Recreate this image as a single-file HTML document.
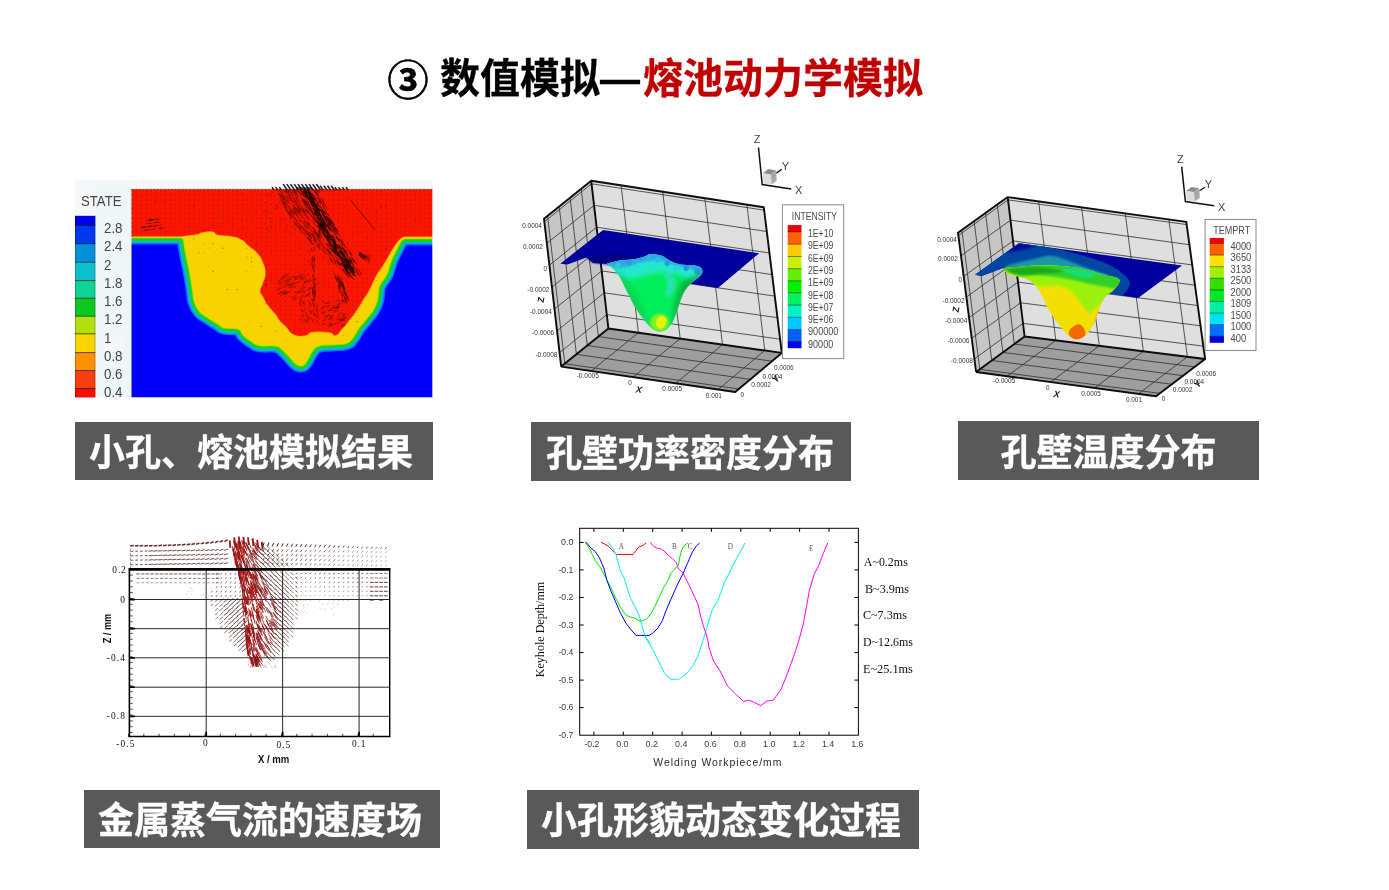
<!DOCTYPE html>
<html lang="zh-CN">
<head>
<meta charset="utf-8">
<title>数值模拟—熔池动力学模拟</title>
<style>
html,body{margin:0;padding:0;background:#fff;}
body{width:1389px;height:890px;position:relative;overflow:hidden;font-family:"Liberation Sans","Noto Sans CJK SC",sans-serif;}
.title{position:absolute;left:0;top:0;width:1389px;height:130px;}
.title span{position:absolute;top:50px;line-height:58px;font-size:40px;font-weight:bold;white-space:nowrap;font-family:"Liberation Sans","Noto Sans CJK SC",sans-serif;transform:scaleY(1.03);transform-origin:50% 50%;}
.cap{position:absolute;background:#595959;color:#fff;font-weight:bold;font-size:36px;text-align:center;white-space:nowrap;font-family:"Liberation Sans","Noto Sans CJK SC",sans-serif;}
.cap span{display:block;position:relative;transform:scaleY(1.03);-webkit-text-stroke:0.3px #fff;}
.fig{position:absolute;left:0;top:0;}
svg text{font-family:"Liberation Sans",sans-serif;}
</style>
</head>
<body>
<div class="title">
  <span style="left:387.5px;color:#000;-webkit-text-stroke:0.7px #000;top:51.5px;font-size:41px;transform:none">③</span>
  <span style="left:440px;color:#000;-webkit-text-stroke:0.3px #000">数值模拟—</span>
  <span style="left:643px;color:#c00000;-webkit-text-stroke:0.3px #c00000">熔池动力学模拟</span>
</div>
<svg class="fig" width="1389" height="890" viewBox="0 0 1389 890">
<g id="fig1">
<defs><clipPath id="f1clip"><rect x="131.5" y="189.3" width="301" height="208.2"/></clipPath><clipPath id="f1all"><rect x="75" y="180" width="357.6" height="217.6"/></clipPath><filter id="f1b" x="-5%" y="-5%" width="110%" height="110%"><feGaussianBlur stdDeviation="0.7"/></filter><filter id="f1b2" x="-5%" y="-5%" width="110%" height="110%"><feGaussianBlur stdDeviation="0.6"/></filter></defs>
<rect x="75" y="180" width="357.6" height="217.6" fill="#f5f7f8"/>
<rect x="96" y="183" width="35" height="214" fill="#eef6f8"/>
<rect x="104" y="338" width="20" height="14" fill="#f6f6f6"/>
<g clip-path="url(#f1all)"><g filter="url(#f1b)">
<rect x="75" y="215.8" width="20.3" height="9.9" fill="#0000e8"/>
<rect x="75" y="225.4" width="20.3" height="18.6" fill="#0038f0"/>
<rect x="75" y="243.7" width="20.3" height="18.8" fill="#0090d8"/>
<rect x="75" y="262.2" width="20.3" height="18.7" fill="#10c0d0"/>
<rect x="75" y="280.6" width="20.3" height="18.0" fill="#10d494"/>
<rect x="75" y="298.3" width="20.3" height="18.2" fill="#10c820"/>
<rect x="75" y="316.2" width="20.3" height="17.9" fill="#b0e010"/>
<rect x="75" y="333.8" width="20.3" height="19.1" fill="#f8d400"/>
<rect x="75" y="352.6" width="20.3" height="18.3" fill="#ff9000"/>
<rect x="75" y="370.6" width="20.3" height="18.1" fill="#f84010"/>
<rect x="75" y="388.4" width="20.3" height="9.5" fill="#f81000"/>
<rect x="75" y="224.9" width="20.3" height="1" fill="#000" opacity="0.6"/>
<rect x="75" y="243.2" width="20.3" height="1" fill="#000" opacity="0.6"/>
<rect x="75" y="261.7" width="20.3" height="1" fill="#000" opacity="0.6"/>
<rect x="75" y="280.1" width="20.3" height="1" fill="#000" opacity="0.6"/>
<rect x="75" y="297.8" width="20.3" height="1" fill="#000" opacity="0.6"/>
<rect x="75" y="315.7" width="20.3" height="1" fill="#000" opacity="0.6"/>
<rect x="75" y="333.3" width="20.3" height="1" fill="#000" opacity="0.6"/>
<rect x="75" y="352.1" width="20.3" height="1" fill="#000" opacity="0.6"/>
<rect x="75" y="370.1" width="20.3" height="1" fill="#000" opacity="0.6"/>
<rect x="75" y="387.9" width="20.3" height="1" fill="#000" opacity="0.6"/>
<rect x="75" y="215.8" width="0.8" height="182" fill="#000" opacity=".3"/>
<rect x="94.6" y="215.8" width="0.8" height="182" fill="#000" opacity=".3"/>
</g>
<g clip-path="url(#f1clip)"><g filter="url(#f1b)">
<rect x="129.5" y="187.5" width="305.0" height="212.0" fill="#0000fa"/>
<path d="M129 237.2L176.0 237.2C177.3 237.3 179.7 236.9 181.5 237.6C183.3 238.3 182.9 237.1 183.8 240.0C184.7 242.9 184.5 244.8 185.5 250.0C186.5 255.2 186.8 256.7 188.0 262.5C189.2 268.3 189.6 270.0 190.5 275.0C191.4 280.0 191.4 280.0 192.0 284.0C192.6 288.0 192.6 287.9 193.2 292.0C193.8 296.1 193.1 297.1 194.6 301.6C196.1 306.1 196.8 307.7 199.8 311.3C202.8 314.9 203.3 314.2 207.5 317.1C211.7 320.0 214.0 321.2 217.9 323.6C221.8 326.0 219.5 326.3 224.3 327.5C229.1 328.7 234.1 327.0 238.6 328.8C243.1 330.6 240.7 332.4 243.7 335.2C246.7 338.0 247.9 338.7 251.5 341.0C255.1 343.3 253.5 343.9 259.2 345.0C264.9 346.1 270.6 344.6 276.0 345.6C281.4 346.7 279.7 347.4 282.5 349.5C285.3 351.6 284.8 351.5 287.8 354.6C290.8 357.8 292.7 360.5 295.5 363.0C298.3 365.5 298.1 364.9 300.0 365.3C301.9 365.7 301.9 365.9 303.6 364.6C305.3 363.3 305.1 363.0 307.1 359.8C309.1 356.6 309.6 354.0 312.3 350.7C315.0 347.4 314.3 347.1 318.8 345.6C323.3 344.1 325.4 344.9 331.7 344.3C338.0 343.7 341.1 344.5 345.9 343.0C350.7 341.5 349.4 341.4 352.4 337.8C355.4 334.2 355.8 331.7 358.8 327.5C361.8 323.3 362.0 323.9 365.3 319.7C368.6 315.5 370.4 313.9 373.1 309.4C375.8 304.9 375.7 304.8 376.9 300.3C378.1 295.8 377.5 293.8 378.2 290.0C378.9 286.2 378.2 287.5 380.0 284.0C381.8 280.5 383.9 279.1 386.0 275.0C388.1 270.9 387.7 270.2 389.0 266.5C390.3 262.8 389.9 262.9 391.5 259.0C393.1 255.2 394.2 253.5 396.0 250.0C397.8 246.5 397.5 246.5 399.0 244.0C400.5 241.5 400.9 240.7 402.5 239.3C404.1 237.9 405.2 238.5 406.0 238.2L435 238.2" fill="none" stroke="#0a70f6" stroke-width="14.5" stroke-linejoin="round"/>
<path d="M129 237.2L176.0 237.2C177.3 237.3 179.7 236.9 181.5 237.6C183.3 238.3 182.9 237.1 183.8 240.0C184.7 242.9 184.5 244.8 185.5 250.0C186.5 255.2 186.8 256.7 188.0 262.5C189.2 268.3 189.6 270.0 190.5 275.0C191.4 280.0 191.4 280.0 192.0 284.0C192.6 288.0 192.6 287.9 193.2 292.0C193.8 296.1 193.1 297.1 194.6 301.6C196.1 306.1 196.8 307.7 199.8 311.3C202.8 314.9 203.3 314.2 207.5 317.1C211.7 320.0 214.0 321.2 217.9 323.6C221.8 326.0 219.5 326.3 224.3 327.5C229.1 328.7 234.1 327.0 238.6 328.8C243.1 330.6 240.7 332.4 243.7 335.2C246.7 338.0 247.9 338.7 251.5 341.0C255.1 343.3 253.5 343.9 259.2 345.0C264.9 346.1 270.6 344.6 276.0 345.6C281.4 346.7 279.7 347.4 282.5 349.5C285.3 351.6 284.8 351.5 287.8 354.6C290.8 357.8 292.7 360.5 295.5 363.0C298.3 365.5 298.1 364.9 300.0 365.3C301.9 365.7 301.9 365.9 303.6 364.6C305.3 363.3 305.1 363.0 307.1 359.8C309.1 356.6 309.6 354.0 312.3 350.7C315.0 347.4 314.3 347.1 318.8 345.6C323.3 344.1 325.4 344.9 331.7 344.3C338.0 343.7 341.1 344.5 345.9 343.0C350.7 341.5 349.4 341.4 352.4 337.8C355.4 334.2 355.8 331.7 358.8 327.5C361.8 323.3 362.0 323.9 365.3 319.7C368.6 315.5 370.4 313.9 373.1 309.4C375.8 304.9 375.7 304.8 376.9 300.3C378.1 295.8 377.5 293.8 378.2 290.0C378.9 286.2 378.2 287.5 380.0 284.0C381.8 280.5 383.9 279.1 386.0 275.0C388.1 270.9 387.7 270.2 389.0 266.5C390.3 262.8 389.9 262.9 391.5 259.0C393.1 255.2 394.2 253.5 396.0 250.0C397.8 246.5 397.5 246.5 399.0 244.0C400.5 241.5 400.9 240.7 402.5 239.3C404.1 237.9 405.2 238.5 406.0 238.2L435 238.2" fill="none" stroke="#10b0e8" stroke-width="11.5" stroke-linejoin="round"/>
<path d="M129 237.2L176.0 237.2C177.3 237.3 179.7 236.9 181.5 237.6C183.3 238.3 182.9 237.1 183.8 240.0C184.7 242.9 184.5 244.8 185.5 250.0C186.5 255.2 186.8 256.7 188.0 262.5C189.2 268.3 189.6 270.0 190.5 275.0C191.4 280.0 191.4 280.0 192.0 284.0C192.6 288.0 192.6 287.9 193.2 292.0C193.8 296.1 193.1 297.1 194.6 301.6C196.1 306.1 196.8 307.7 199.8 311.3C202.8 314.9 203.3 314.2 207.5 317.1C211.7 320.0 214.0 321.2 217.9 323.6C221.8 326.0 219.5 326.3 224.3 327.5C229.1 328.7 234.1 327.0 238.6 328.8C243.1 330.6 240.7 332.4 243.7 335.2C246.7 338.0 247.9 338.7 251.5 341.0C255.1 343.3 253.5 343.9 259.2 345.0C264.9 346.1 270.6 344.6 276.0 345.6C281.4 346.7 279.7 347.4 282.5 349.5C285.3 351.6 284.8 351.5 287.8 354.6C290.8 357.8 292.7 360.5 295.5 363.0C298.3 365.5 298.1 364.9 300.0 365.3C301.9 365.7 301.9 365.9 303.6 364.6C305.3 363.3 305.1 363.0 307.1 359.8C309.1 356.6 309.6 354.0 312.3 350.7C315.0 347.4 314.3 347.1 318.8 345.6C323.3 344.1 325.4 344.9 331.7 344.3C338.0 343.7 341.1 344.5 345.9 343.0C350.7 341.5 349.4 341.4 352.4 337.8C355.4 334.2 355.8 331.7 358.8 327.5C361.8 323.3 362.0 323.9 365.3 319.7C368.6 315.5 370.4 313.9 373.1 309.4C375.8 304.9 375.7 304.8 376.9 300.3C378.1 295.8 377.5 293.8 378.2 290.0C378.9 286.2 378.2 287.5 380.0 284.0C381.8 280.5 383.9 279.1 386.0 275.0C388.1 270.9 387.7 270.2 389.0 266.5C390.3 262.8 389.9 262.9 391.5 259.0C393.1 255.2 394.2 253.5 396.0 250.0C397.8 246.5 397.5 246.5 399.0 244.0C400.5 241.5 400.9 240.7 402.5 239.3C404.1 237.9 405.2 238.5 406.0 238.2L435 238.2" fill="none" stroke="#14d41c" stroke-width="7.4" stroke-linejoin="round"/>
<path d="M129 237.2L176.0 237.2C177.3 237.3 179.7 236.9 181.5 237.6C183.3 238.3 182.9 237.1 183.8 240.0C184.7 242.9 184.5 244.8 185.5 250.0C186.5 255.2 186.8 256.7 188.0 262.5C189.2 268.3 189.6 270.0 190.5 275.0C191.4 280.0 191.4 280.0 192.0 284.0C192.6 288.0 192.6 287.9 193.2 292.0C193.8 296.1 193.1 297.1 194.6 301.6C196.1 306.1 196.8 307.7 199.8 311.3C202.8 314.9 203.3 314.2 207.5 317.1C211.7 320.0 214.0 321.2 217.9 323.6C221.8 326.0 219.5 326.3 224.3 327.5C229.1 328.7 234.1 327.0 238.6 328.8C243.1 330.6 240.7 332.4 243.7 335.2C246.7 338.0 247.9 338.7 251.5 341.0C255.1 343.3 253.5 343.9 259.2 345.0C264.9 346.1 270.6 344.6 276.0 345.6C281.4 346.7 279.7 347.4 282.5 349.5C285.3 351.6 284.8 351.5 287.8 354.6C290.8 357.8 292.7 360.5 295.5 363.0C298.3 365.5 298.1 364.9 300.0 365.3C301.9 365.7 301.9 365.9 303.6 364.6C305.3 363.3 305.1 363.0 307.1 359.8C309.1 356.6 309.6 354.0 312.3 350.7C315.0 347.4 314.3 347.1 318.8 345.6C323.3 344.1 325.4 344.9 331.7 344.3C338.0 343.7 341.1 344.5 345.9 343.0C350.7 341.5 349.4 341.4 352.4 337.8C355.4 334.2 355.8 331.7 358.8 327.5C361.8 323.3 362.0 323.9 365.3 319.7C368.6 315.5 370.4 313.9 373.1 309.4C375.8 304.9 375.7 304.8 376.9 300.3C378.1 295.8 377.5 293.8 378.2 290.0C378.9 286.2 378.2 287.5 380.0 284.0C381.8 280.5 383.9 279.1 386.0 275.0C388.1 270.9 387.7 270.2 389.0 266.5C390.3 262.8 389.9 262.9 391.5 259.0C393.1 255.2 394.2 253.5 396.0 250.0C397.8 246.5 397.5 246.5 399.0 244.0C400.5 241.5 400.9 240.7 402.5 239.3C404.1 237.9 405.2 238.5 406.0 238.2L435 238.2" fill="none" stroke="#a8e010" stroke-width="2" stroke-linejoin="round"/>
<path d="M129 237.2L176.0 237.2C177.3 237.3 179.7 236.9 181.5 237.6C183.3 238.3 182.9 237.1 183.8 240.0C184.7 242.9 184.5 244.8 185.5 250.0C186.5 255.2 186.8 256.7 188.0 262.5C189.2 268.3 189.6 270.0 190.5 275.0C191.4 280.0 191.4 280.0 192.0 284.0C192.6 288.0 192.6 287.9 193.2 292.0C193.8 296.1 193.1 297.1 194.6 301.6C196.1 306.1 196.8 307.7 199.8 311.3C202.8 314.9 203.3 314.2 207.5 317.1C211.7 320.0 214.0 321.2 217.9 323.6C221.8 326.0 219.5 326.3 224.3 327.5C229.1 328.7 234.1 327.0 238.6 328.8C243.1 330.6 240.7 332.4 243.7 335.2C246.7 338.0 247.9 338.7 251.5 341.0C255.1 343.3 253.5 343.9 259.2 345.0C264.9 346.1 270.6 344.6 276.0 345.6C281.4 346.7 279.7 347.4 282.5 349.5C285.3 351.6 284.8 351.5 287.8 354.6C290.8 357.8 292.7 360.5 295.5 363.0C298.3 365.5 298.1 364.9 300.0 365.3C301.9 365.7 301.9 365.9 303.6 364.6C305.3 363.3 305.1 363.0 307.1 359.8C309.1 356.6 309.6 354.0 312.3 350.7C315.0 347.4 314.3 347.1 318.8 345.6C323.3 344.1 325.4 344.9 331.7 344.3C338.0 343.7 341.1 344.5 345.9 343.0C350.7 341.5 349.4 341.4 352.4 337.8C355.4 334.2 355.8 331.7 358.8 327.5C361.8 323.3 362.0 323.9 365.3 319.7C368.6 315.5 370.4 313.9 373.1 309.4C375.8 304.9 375.7 304.8 376.9 300.3C378.1 295.8 377.5 293.8 378.2 290.0C378.9 286.2 378.2 287.5 380.0 284.0C381.8 280.5 383.9 279.1 386.0 275.0C388.1 270.9 387.7 270.2 389.0 266.5C390.3 262.8 389.9 262.9 391.5 259.0C393.1 255.2 394.2 253.5 396.0 250.0C397.8 246.5 397.5 246.5 399.0 244.0C400.5 241.5 400.9 240.7 402.5 239.3C404.1 237.9 405.2 238.5 406.0 238.2L435 238.2L435 186L129 186Z" fill="#f9d300"/>
<path d="M129 186L435 186L435 236.6L404.0 236.6C402.6 237.6 401.8 237.1 398.8 240.3C395.8 243.5 395.7 244.0 392.7 248.6C389.7 253.2 390.3 252.8 387.4 257.7C384.5 262.6 385.0 262.0 382.0 266.8C379.0 271.6 379.4 269.6 376.0 275.8C372.6 282.0 372.7 283.5 369.2 290.0C365.7 296.5 366.1 294.8 362.7 300.3C359.3 305.8 360.1 305.2 356.3 310.7C352.5 316.2 352.3 316.2 348.5 321.0C344.7 325.8 345.4 325.0 342.0 328.8C338.6 332.6 339.0 334.3 335.6 335.2C332.2 336.1 335.3 333.2 329.1 332.3C322.9 331.4 318.5 331.2 312.3 332.0C306.1 332.8 310.6 334.5 305.8 335.2C301.0 335.9 299.5 336.9 294.2 334.6C288.9 332.3 289.8 330.3 286.0 326.5C282.2 322.7 282.7 323.7 280.0 320.5C277.3 317.3 279.1 318.6 276.0 314.6C272.9 310.6 271.7 310.3 268.3 305.5C264.9 300.7 265.2 300.4 263.1 296.5C261.0 292.6 260.5 294.5 260.5 291.0C260.5 287.5 261.7 288.0 263.1 283.2C264.5 278.4 265.7 278.4 265.7 272.9C265.7 267.4 265.2 267.7 263.1 262.5C261.0 257.3 261.7 258.0 257.9 253.5C254.1 249.0 253.4 249.5 248.9 245.7C244.4 241.9 245.9 241.9 241.1 239.3C236.3 236.7 237.0 237.2 230.8 236.0C224.6 234.8 222.7 236.0 217.9 234.8C213.1 233.6 216.8 232.2 212.7 231.5C208.6 230.8 206.5 231.5 202.4 232.2C198.3 232.9 202.7 233.0 197.2 234.1C191.7 235.2 185.8 235.7 181.7 236.3L129 236.3Z" fill="#ff9800" stroke="#ff9800" stroke-width="1.2"/>
<path d="M129 186L435 186L435 236.6L404.0 236.6C402.6 237.6 401.8 237.1 398.8 240.3C395.8 243.5 395.7 244.0 392.7 248.6C389.7 253.2 390.3 252.8 387.4 257.7C384.5 262.6 385.0 262.0 382.0 266.8C379.0 271.6 379.4 269.6 376.0 275.8C372.6 282.0 372.7 283.5 369.2 290.0C365.7 296.5 366.1 294.8 362.7 300.3C359.3 305.8 360.1 305.2 356.3 310.7C352.5 316.2 352.3 316.2 348.5 321.0C344.7 325.8 345.4 325.0 342.0 328.8C338.6 332.6 339.0 334.3 335.6 335.2C332.2 336.1 335.3 333.2 329.1 332.3C322.9 331.4 318.5 331.2 312.3 332.0C306.1 332.8 310.6 334.5 305.8 335.2C301.0 335.9 299.5 336.9 294.2 334.6C288.9 332.3 289.8 330.3 286.0 326.5C282.2 322.7 282.7 323.7 280.0 320.5C277.3 317.3 279.1 318.6 276.0 314.6C272.9 310.6 271.7 310.3 268.3 305.5C264.9 300.7 265.2 300.4 263.1 296.5C261.0 292.6 260.5 294.5 260.5 291.0C260.5 287.5 261.7 288.0 263.1 283.2C264.5 278.4 265.7 278.4 265.7 272.9C265.7 267.4 265.2 267.7 263.1 262.5C261.0 257.3 261.7 258.0 257.9 253.5C254.1 249.0 253.4 249.5 248.9 245.7C244.4 241.9 245.9 241.9 241.1 239.3C236.3 236.7 237.0 237.2 230.8 236.0C224.6 234.8 222.7 236.0 217.9 234.8C213.1 233.6 216.8 232.2 212.7 231.5C208.6 230.8 206.5 231.5 202.4 232.2C198.3 232.9 202.7 233.0 197.2 234.1C191.7 235.2 185.8 235.7 181.7 236.3L129 236.3Z" fill="#fa1600"/>
<pattern id="f1dots" width="4.8" height="4.6" patternUnits="userSpaceOnUse"><rect x="1.6" y="1.6" width="1.3" height="1.1" fill="#4a0000" opacity=".3"/></pattern>
<path d="M129 186L435 186L435 236.6L404.0 236.6C402.6 237.6 401.8 237.1 398.8 240.3C395.8 243.5 395.7 244.0 392.7 248.6C389.7 253.2 390.3 252.8 387.4 257.7C384.5 262.6 385.0 262.0 382.0 266.8C379.0 271.6 379.4 269.6 376.0 275.8C372.6 282.0 372.7 283.5 369.2 290.0C365.7 296.5 366.1 294.8 362.7 300.3C359.3 305.8 360.1 305.2 356.3 310.7C352.5 316.2 352.3 316.2 348.5 321.0C344.7 325.8 345.4 325.0 342.0 328.8C338.6 332.6 339.0 334.3 335.6 335.2C332.2 336.1 335.3 333.2 329.1 332.3C322.9 331.4 318.5 331.2 312.3 332.0C306.1 332.8 310.6 334.5 305.8 335.2C301.0 335.9 299.5 336.9 294.2 334.6C288.9 332.3 289.8 330.3 286.0 326.5C282.2 322.7 282.7 323.7 280.0 320.5C277.3 317.3 279.1 318.6 276.0 314.6C272.9 310.6 271.7 310.3 268.3 305.5C264.9 300.7 265.2 300.4 263.1 296.5C261.0 292.6 260.5 294.5 260.5 291.0C260.5 287.5 261.7 288.0 263.1 283.2C264.5 278.4 265.7 278.4 265.7 272.9C265.7 267.4 265.2 267.7 263.1 262.5C261.0 257.3 261.7 258.0 257.9 253.5C254.1 249.0 253.4 249.5 248.9 245.7C244.4 241.9 245.9 241.9 241.1 239.3C236.3 236.7 237.0 237.2 230.8 236.0C224.6 234.8 222.7 236.0 217.9 234.8C213.1 233.6 216.8 232.2 212.7 231.5C208.6 230.8 206.5 231.5 202.4 232.2C198.3 232.9 202.7 233.0 197.2 234.1C191.7 235.2 185.8 235.7 181.7 236.3L129 236.3Z" fill="url(#f1dots)"/>
</g>
<g filter="url(#f1b2)" stroke="#1a0500" stroke-linecap="butt" fill="none">
<path d="M301.5 200.3l2.0 3.2M278.1 193.6l4.0 5.5M284.6 196.2l4.2 5.3M286.6 196.3l4.4 4.9M287.8 207.2l3.4 4.2M318.4 243.2l2.0 3.1M306.5 222.4l4.0 4.5M278.2 192.6l2.6 3.2M295.0 218.4l2.4 3.2M313.7 231.1l2.6 2.9M303.1 210.6l2.1 3.6M301.1 205.3l3.7 6.4M292.0 207.2l2.8 3.3M283.6 199.0l3.2 5.9M284.1 186.6l2.8 5.4M294.3 212.7l3.7 4.5M294.5 223.9l4.7 5.4M303.2 227.2l3.9 5.9M317.1 235.5l2.0 2.9M294.5 211.1l2.8 4.8M311.7 234.1l4.2 5.9M307.5 229.8l3.1 6.1M295.7 197.0l4.2 5.8M323.0 251.0l2.5 2.8M296.3 198.1l2.5 3.7M282.2 201.3l2.9 3.2M300.3 214.1l2.4 4.0M294.6 187.0l3.0 4.9M306.6 231.5l3.9 6.3M294.2 200.5l4.6 5.1M297.2 208.2l3.3 4.2M299.5 219.0l3.4 3.7M314.0 232.1l3.5 4.2M276.3 188.3l2.7 3.5M307.3 216.2l1.9 3.6M321.5 243.1l3.4 5.2M315.4 185.5l3.3 5.6M317.3 235.7l2.0 3.2M285.8 209.3l2.4 4.0M305.4 221.5l2.7 5.2M304.6 225.9l2.3 2.9M294.7 210.7l2.4 3.5M309.0 234.3l2.9 3.9M317.2 244.0l2.1 3.8M296.3 208.7l3.2 4.2M281.8 199.6l3.5 5.1M329.3 256.0l3.3 4.6M328.7 250.8l2.5 2.8M318.8 239.9l2.6 3.5M299.1 227.7l2.8 5.4M293.2 207.9l2.9 5.6M292.4 189.1l3.2 4.1M284.8 190.9l3.4 3.8M287.4 186.3l3.1 3.8M302.5 210.4l2.8 5.3M299.6 211.0l4.4 4.8M306.4 208.9l3.2 4.4M293.8 191.8l3.9 4.2M295.5 193.7l3.6 4.1M326.8 247.1l3.6 5.9M293.5 207.9l4.6 5.3M283.1 202.9l2.7 5.2M324.9 243.1l3.2 3.8M284.6 204.5l3.7 4.6M300.0 204.3l2.9 4.9M307.7 237.0l2.1 3.2M307.8 211.2l4.5 5.8M303.6 223.0l3.6 6.5M305.1 232.7l3.0 3.5M289.6 196.4l3.5 6.5M309.2 239.1l3.6 5.0M311.3 226.1l4.0 4.4M317.9 190.1l2.1 3.2M291.0 210.2l2.7 3.9M324.5 247.7l2.2 2.8M284.7 207.4l1.9 3.0M293.4 199.5l4.0 4.5M317.6 245.2l2.1 3.6M298.9 213.0l4.7 5.2M292.7 196.3l2.3 2.8M295.0 206.6l3.8 6.2M327.5 248.6l4.0 6.3M284.3 187.8l4.8 5.4M282.2 188.2l3.3 5.9M281.7 195.1l2.2 3.7M300.6 225.3l3.1 3.3M305.1 215.1l2.6 4.9M297.5 205.4l2.9 4.7M334.0 258.3l2.7 4.1M308.4 222.6l1.8 3.4M290.8 209.8l2.6 4.8M330.6 254.3l3.4 4.0M289.0 212.8l3.6 5.8M286.1 200.5l3.0 3.7M309.9 227.7l2.8 4.3M317.7 244.4l2.8 4.9M302.9 209.9l4.1 5.0M305.8 209.6l2.5 3.4M297.1 208.4l3.3 4.3M280.8 198.6l4.2 5.1M315.3 231.0l3.9 5.7M313.3 236.9l3.7 5.8M306.1 224.8l1.8 3.4M318.1 231.0l1.7 3.2M304.4 228.9l3.7 5.4M310.0 236.9l2.3 4.1M330.1 259.0l2.9 3.8M330.5 258.0l2.8 5.2M288.1 188.3l3.6 6.2M300.1 224.6l3.9 6.1M285.2 187.1l4.2 4.6M284.2 187.7l2.3 3.8M327.2 250.3l4.2 5.9M334.1 261.8l3.6 4.7M309.4 238.9l3.5 6.1M326.1 248.6l2.5 3.5M314.6 240.6l2.7 3.3M308.2 234.2l2.4 2.8M295.0 189.9l2.7 3.2M279.4 189.8l3.9 5.8M292.0 189.6l3.1 3.8M295.4 197.7l2.4 3.4M294.0 199.7l1.9 3.0M292.0 190.8l3.0 4.9M296.0 224.1l3.0 3.5M284.9 185.7l2.8 4.9M279.5 193.8l3.0 4.6M296.4 204.3l3.5 5.3M290.5 191.9l2.7 4.4M311.1 233.0l4.2 4.8M318.2 235.3l2.0 3.0M287.9 194.8l4.3 5.3M316.2 232.5l2.5 3.1M306.8 224.2l2.8 4.9M293.0 215.8l4.4 6.0M310.7 232.9l2.7 3.0M298.4 223.6l2.8 3.5M322.1 245.4l4.1 4.9M313.1 236.2l2.9 4.5M299.6 208.1l3.5 4.3M286.7 191.8l2.6 4.6M306.9 237.2l2.9 3.8M288.3 213.8l3.8 4.4M318.2 233.4l2.7 4.3M307.3 236.7l3.9 5.8M317.7 232.8l2.7 3.2M315.9 236.5l3.8 4.7M278.2 187.1l2.4 4.1M286.6 209.9l4.7 5.3M294.3 189.0l3.3 6.1M294.2 222.0l2.3 3.7M294.1 202.3l2.6 3.4M303.4 208.8l3.0 3.6M293.6 189.2l2.6 4.1M305.2 208.8l2.4 3.6M317.1 235.3l4.1 5.1M304.6 232.6l2.3 3.0M299.3 206.4l4.2 4.8M297.3 222.2l3.1 5.8M286.7 204.2l3.1 4.0M310.7 233.3l1.9 3.5M334.1 259.9l3.6 4.4M304.2 205.3l3.1 3.4M293.4 198.3l4.5 4.9M293.4 189.3l3.4 5.0M316.0 232.2l3.1 3.6M280.6 189.9l2.5 3.5M298.7 226.7l2.7 4.1M289.6 193.7l3.3 4.2M309.2 234.6l2.8 4.2M282.7 202.1l2.7 5.0M295.0 194.9l2.6 3.7M315.2 236.7l3.7 4.5M292.9 220.1l4.0 4.3M291.4 213.4l2.7 4.4M281.8 187.4l4.4 5.0M333.8 260.8l1.7 3.1M313.7 239.1l2.9 3.9M304.2 210.9l3.5 6.0M312.6 227.0l2.6 3.9M287.4 192.2l2.9 3.7M295.2 188.4l3.0 3.5M302.2 231.6l2.5 3.8M326.8 253.1l2.4 3.1M286.8 199.5l2.0 3.3M319.7 239.6l3.4 5.1M283.8 186.3l3.5 5.0M285.3 201.3l3.7 6.1M287.1 188.7l2.3 3.8M292.1 209.1l3.3 4.1M292.8 204.1l3.1 5.2M296.8 202.8l2.4 2.9M308.8 237.8l2.1 2.8M306.9 221.8l2.4 3.3M305.9 208.6l2.5 3.0M319.0 242.4l2.5 4.1M318.6 230.3l2.6 3.1M319.0 234.6l2.2 3.9M285.9 209.3l3.3 3.7M301.6 208.6l1.9 3.4M311.7 219.8l2.5 4.0M318.7 230.8l3.1 5.7M313.4 228.3l2.5 4.5M310.8 230.4l3.9 5.6M331.9 254.7l2.2 2.9M281.5 193.7l3.0 4.9M309.2 238.7l3.1 6.0M296.8 210.4l2.8 3.6M290.4 190.7l2.8 4.1M313.5 230.9l2.8 4.1M281.0 193.6l3.7 6.3M298.5 207.4l2.6 4.0M298.2 217.7l2.8 4.7M301.3 226.9l4.1 5.0M303.9 220.7l2.2 3.5M286.2 194.9l1.9 3.5M315.9 235.3l3.5 4.0M289.7 197.0l4.4 5.4M322.1 248.9l4.1 5.0M285.8 210.4l3.4 3.7M327.2 249.5l2.4 4.2M314.4 230.7l3.6 6.1M293.1 204.4l2.6 3.6M289.1 210.8l2.3 4.4M307.4 231.5l2.6 4.9M294.2 218.3l3.8 4.3M301.0 197.5l3.3 6.3M289.5 214.6l2.0 3.8M300.7 226.6l3.0 3.4M307.6 221.4l2.1 4.0M328.8 258.0l2.5 3.2M322.0 247.7l2.4 3.9M295.5 208.3l3.8 4.2M328.5 249.5l2.6 4.4M302.8 222.0l2.5 4.2M318.9 232.9l3.8 6.0M296.8 206.1l2.5 3.0M307.4 211.5l4.1 4.9M289.5 209.8l3.5 5.2M280.8 195.3l4.3 5.0M283.7 195.7l3.1 4.6M290.0 208.6l4.8 5.2M315.2 245.1l2.9 3.4M283.4 204.0l3.4 4.7M328.9 251.5l2.2 3.1M313.7 222.1l3.4 5.4" stroke-width="0.8" opacity="0.4"/>
<path d="M319.3 219.6l3.7 4.1M323.9 222.9l1.7 3.3M333.7 240.5l3.0 4.4M344.5 265.5l3.2 4.0M302.5 191.3l2.8 3.0M347.4 259.4l3.2 5.6M303.7 189.0l3.1 3.4M310.5 202.4l4.6 4.9M336.1 237.0l3.4 4.4M326.1 231.9l3.6 5.1M349.4 274.2l4.6 5.6M317.8 217.4l3.1 3.7M326.4 232.4l5.0 5.5M316.9 202.9l2.2 2.8M334.7 244.5l2.9 3.9M335.4 244.6l4.6 5.1M342.9 261.1l3.9 5.9M340.5 243.2l2.1 3.2M349.9 259.7l3.9 6.0M339.1 245.8l2.3 2.9M321.7 222.7l2.7 3.2M316.0 205.0l3.6 6.6M312.4 199.4l2.5 3.0M345.6 264.7l2.1 4.0M342.9 254.2l2.5 3.5M316.0 203.2l3.3 4.0M351.1 266.1l3.9 6.4M343.0 253.1l3.3 5.7M325.9 216.2l3.0 3.9M322.8 220.5l2.2 3.7M322.7 215.0l4.5 6.0M317.1 206.6l3.1 5.3M346.4 270.4l3.1 3.5M312.6 200.9l3.9 4.2M315.4 206.8l3.4 5.7M313.2 202.9l2.3 3.2M328.3 222.3l2.3 3.9M312.0 202.7l1.9 3.2M326.2 224.9l4.0 5.8M322.1 218.0l2.8 4.4M340.6 251.3l4.7 5.0M322.3 214.0l3.8 4.6M333.3 243.6l3.4 5.5M343.8 267.4l4.7 5.2M353.0 273.3l2.9 3.2M320.4 206.2l1.9 3.4M338.8 245.6l2.9 3.8M306.2 188.4l4.0 5.3M333.6 231.8l2.9 4.5M340.6 249.7l3.0 5.4M328.6 227.4l3.7 4.7M341.6 251.7l2.4 3.8M303.7 191.2l3.2 4.0M344.7 261.2l2.7 3.8M341.3 262.8l4.0 4.8M321.6 210.8l2.6 3.1M335.1 242.8l4.2 5.5M316.2 210.0l4.2 6.1M331.7 228.4l2.0 3.4M321.9 209.7l3.2 4.1M309.1 195.6l2.3 3.7M327.4 223.8l4.0 5.3M321.4 212.2l5.0 5.5M344.2 265.9l2.6 3.8M347.0 259.2l3.8 6.1M325.5 218.3l2.0 2.9M322.6 209.8l2.6 4.5M324.2 221.8l4.8 5.5M352.5 269.6l1.8 3.2M341.2 250.2l4.0 6.3M348.5 267.8l3.5 4.0M314.7 212.7l2.7 3.4M347.1 266.1l2.0 2.9M343.9 265.1l3.9 5.0M307.8 197.7l3.8 5.8M337.6 254.1l2.8 4.6M342.1 251.4l1.9 3.5M322.6 223.4l3.5 6.0M325.9 220.8l3.1 4.3M347.2 263.2l2.0 3.8M331.9 234.4l3.3 3.7M323.2 224.3l2.7 3.1M323.8 218.1l2.9 4.1M319.8 222.0l2.2 3.0M317.2 207.3l2.4 3.3M322.8 215.1l2.3 3.1M350.2 265.5l3.0 3.5M337.4 252.2l2.5 2.7M303.1 185.2l3.3 5.7M320.2 209.1l3.3 3.7M334.8 247.9l2.8 3.5M324.9 227.5l3.5 5.9M311.8 196.3l3.3 4.2M311.2 204.0l2.0 2.9M346.3 270.7l4.3 5.1M345.8 254.6l2.6 3.4M344.4 249.7l3.5 6.4M346.7 264.4l2.6 4.5M331.7 241.8l3.6 4.5M307.9 191.9l4.1 5.6M352.6 265.6l4.2 4.9M301.2 186.9l4.3 6.1M320.8 223.5l3.2 3.6M336.8 236.6l2.3 4.3M344.0 266.9l2.5 3.2M329.8 223.2l2.6 4.1M325.8 216.5l2.3 3.9M324.6 226.8l3.9 5.8M317.3 207.7l2.3 3.2M333.0 245.7l3.2 4.7M347.3 258.5l1.8 3.3M328.6 235.6l4.5 5.8M327.5 235.7l3.8 4.6M345.9 268.6l1.8 3.2M311.6 193.1l4.5 6.0M318.4 207.9l2.9 3.9M305.7 187.4l3.7 4.4M332.1 236.1l3.4 5.7M349.2 259.8l2.2 3.9M306.6 188.6l3.6 4.8M324.5 228.4l3.7 4.1M318.7 213.2l1.8 3.4M307.8 193.6l4.1 5.0M338.2 244.2l3.8 4.6M346.3 258.0l4.2 4.8M345.8 259.6l2.9 4.4M345.5 258.1l2.3 4.1M342.2 247.8l3.2 6.0M307.9 193.1l3.7 5.8M345.7 259.0l3.7 4.0M325.9 228.4l2.7 3.4M327.8 220.0l3.5 5.1M332.2 236.6l3.8 5.3M342.6 247.3l4.4 5.9M335.2 249.9l2.6 3.2M319.3 212.6l2.5 3.8M338.3 247.7l4.0 5.4M331.0 238.8l3.5 4.7M341.4 262.8l4.0 4.7M351.3 267.8l3.5 5.8M334.8 242.9l2.4 2.9M309.6 191.1l3.5 5.4M323.8 222.4l3.3 4.8M314.2 197.8l3.6 5.1M336.0 244.1l3.1 3.8M344.3 264.1l2.3 2.7M305.7 186.0l3.3 5.8" stroke-width="1.0" opacity="0.8"/>
<path d="M329.2 220.7l2.1 3.1M346.1 272.4l3.6 5.0M321.1 226.7l3.3 3.5M311.2 209.9l4.6 5.6M318.1 221.6l2.9 3.4M328.6 218.6l2.8 5.0M349.3 258.1l2.7 3.7M321.3 225.7l2.8 4.8M318.6 201.1l2.6 3.4M324.8 213.5l4.2 5.7M302.6 193.1l3.8 5.5M328.6 220.0l2.1 3.1M344.3 267.8l1.8 3.2M339.3 238.9l4.2 6.0M341.7 264.0l3.0 4.3M309.0 204.9l2.5 3.2M331.7 226.9l4.1 4.6M306.1 198.8l2.7 4.9M349.1 256.7l3.3 5.1M319.6 223.6l2.7 4.0M317.0 219.8l3.3 3.9M320.5 224.0l2.8 5.4M355.8 269.9l3.3 5.4M332.6 228.7l4.7 5.4" stroke-width="1.0" opacity="0.6"/>
<path d="M332.1 225.0l3.6 4.6M312.3 212.9l3.2 5.4M340.1 238.6l2.3 4.2M324.1 210.3l3.5 3.8M351.5 256.8l3.2 5.9M319.5 200.0l2.0 3.0M348.4 250.1l3.1 3.9M340.9 268.1l4.1 4.8M332.1 224.4l4.8 5.4M311.9 216.2l4.0 6.0M324.0 234.1l3.2 5.3M336.8 260.6l3.7 4.2M332.9 250.4l2.3 2.8M315.7 220.7l3.6 5.1M331.9 249.7l2.5 3.9M318.3 229.1l2.3 3.2M314.9 188.3l3.7 4.0M312.1 213.9l3.2 3.7M313.6 217.1l4.0 5.1M302.7 194.6l2.9 3.5M299.3 187.5l3.6 5.1M309.0 208.6l3.9 6.1M331.0 220.9l2.9 3.9M334.8 227.1l3.3 4.0M304.9 204.3l2.2 3.7M315.3 190.7l2.4 4.5M325.5 236.6l2.6 4.0M337.5 258.0l2.1 3.1M317.4 221.0l1.9 3.6M336.0 260.1l4.8 5.7M324.4 204.5l2.9 4.5M307.5 207.4l4.4 4.9M303.1 199.7l2.5 2.7M340.3 239.3l3.5 4.0M309.2 206.0l3.7 6.0M306.3 205.0l4.3 5.0M343.6 244.0l3.3 4.7M321.0 197.4l2.4 4.3M330.4 218.3l3.3 6.1M351.5 257.5l4.5 5.2M302.9 199.1l3.2 5.9M316.2 191.7l2.4 3.3M328.1 244.3l4.0 4.4M326.7 243.2l3.1 5.0M330.0 219.1l3.3 5.8M315.0 191.2l3.5 4.6M331.7 222.5l2.4 3.4M312.5 216.9l2.7 4.7M304.5 200.7l3.5 4.7M323.7 234.4l2.1 3.3M349.2 252.5l2.7 3.0M343.1 269.0l3.4 6.0M318.7 225.8l2.2 4.1M319.7 200.1l2.6 3.0M320.7 230.3l4.6 5.8M322.2 230.9l3.1 5.8M317.6 195.4l3.0 5.5M327.2 240.5l4.5 5.9M297.7 189.4l2.9 5.2M338.6 262.7l2.4 3.0M337.6 262.1l2.9 4.5M318.2 226.8l2.3 4.3M304.8 202.1l2.4 2.6M317.7 224.7l3.2 4.2M357.7 268.4l3.6 6.5M307.2 201.2l2.7 5.1M302.1 199.0l4.0 5.7M332.6 222.4l2.4 3.4M337.7 232.8l2.7 4.1M315.0 220.1l2.8 3.4M302.4 197.9l4.8 5.1M307.3 203.5l3.8 5.8M313.4 186.7l2.7 5.1M335.4 256.2l2.4 4.1M311.8 210.6l4.1 6.0M321.7 202.5l2.3 4.4M328.6 217.4l2.7 4.6M338.6 261.8l3.0 3.8M297.8 187.5l4.9 5.6M316.4 196.2l3.3 4.4M349.5 252.1l2.8 3.8M333.2 226.6l3.9 5.5M342.6 243.4l2.2 2.9M301.7 192.4l2.6 4.3M334.5 230.1l4.2 4.6M317.4 224.9l3.2 3.5M332.0 248.4l2.7 3.4M322.2 200.1l2.3 4.2M325.3 236.2l2.7 3.0M299.2 192.8l2.2 3.2M323.1 206.8l3.7 5.5M302.9 199.2l2.8 3.4M303.3 200.2l2.9 5.5M345.4 271.4l3.1 5.7M332.3 250.7l4.0 5.3M327.0 213.2l3.0 3.4M333.9 225.8l3.6 5.7M299.9 190.9l3.1 4.0M327.6 217.0l3.5 4.6M335.0 228.1l2.6 3.4M317.4 225.9l4.0 4.8M352.3 258.3l3.9 5.5M313.4 189.5l2.7 4.9" stroke-width="0.8" opacity="0.6"/>
<path d="M303.9 185.8l5.4 5.8M302.9 187.5l3.9 6.2M306.1 191.1l3.2 3.0M308.6 192.3l3.1 2.8M303.9 192.6l4.6 4.8M309.5 192.9l2.5 4.4M305.3 192.3l2.4 3.7M309.3 194.5l5.0 5.2M304.8 195.0l5.1 5.0M309.4 197.1l5.5 5.0M308.6 197.7l4.0 5.1M309.8 199.7l3.1 2.9M310.1 199.0l2.6 3.1M311.2 197.6l3.8 6.2M310.4 199.9l2.8 4.0M310.6 200.2l2.9 5.4M310.1 200.8l4.1 6.2M313.9 203.0l3.4 4.0M313.3 203.0l4.6 6.4M314.5 205.3l3.2 3.1M314.4 207.4l3.6 4.6M312.7 207.7l4.4 6.3M315.6 209.3l3.6 6.4M315.7 208.2l4.2 6.1M313.9 212.1l5.4 5.6M315.4 213.5l3.5 3.8M315.0 213.3l4.2 4.0M319.7 214.3l3.5 6.1M319.6 217.3l2.8 4.3M316.3 217.4l3.6 3.3M320.3 219.2l4.7 5.3M320.9 220.4l3.3 5.2M317.0 221.7l4.3 4.9M320.3 222.5l2.2 4.1M320.7 223.1l4.7 6.2M320.7 225.0l4.4 6.5M319.1 224.6l5.1 5.6M319.7 225.5l4.4 6.6M321.6 227.9l3.8 5.6M325.8 231.1l3.4 3.7M322.1 232.2l3.5 3.6M328.2 232.5l3.9 5.3M327.2 235.0l2.8 3.2M324.6 234.0l3.0 3.5M325.3 235.3l3.2 5.9M327.0 238.7l3.1 3.1M327.8 237.9l3.2 4.8M331.3 238.2l2.6 4.7M332.6 239.4l2.6 4.2M333.2 242.8l2.9 4.2M329.0 242.2l2.3 4.0M333.4 244.6l2.7 3.9M331.0 243.8l2.6 4.9M334.5 247.2l2.9 3.1M330.0 248.0l5.6 5.5M333.0 249.0l5.1 5.0M334.2 249.8l2.7 3.5M334.3 251.7l3.7 4.1M338.2 251.1l3.4 3.5M336.5 251.8l3.4 4.8M339.7 251.1l4.2 6.0M337.2 253.1l2.8 3.5M339.0 256.2l3.2 3.1M339.4 254.9l4.0 4.2M337.9 255.3l3.8 4.5M343.6 258.2l3.6 3.4M342.9 257.4l4.0 6.8M344.7 257.6l3.0 5.3M341.9 259.2l2.5 4.2M341.4 259.9l2.9 5.1M345.7 260.7l3.3 4.1M343.2 263.4l2.9 3.4M348.3 263.6l2.8 2.9M346.0 263.8l4.3 4.0M347.1 264.2l4.1 4.4M346.2 264.8l5.1 5.1M349.8 265.8l2.8 4.7M349.2 264.7l4.4 4.6M350.4 265.8l2.9 3.0M347.1 265.6l4.9 5.0M348.6 268.5l4.3 5.1M345.8 269.5l4.1 4.3M348.8 269.1l4.9 6.3M351.0 268.5l2.5 4.1" stroke-width="1.4" opacity="0.8"/>
<path d="M313.6 286.4l4.9 -3.3M288.1 284.7l4.2 -2.7M276.6 284.1l4.5 -3.2M276.2 290.2l3.6 -2.4M297.8 293.0l3.0 -2.2M281.6 277.0l4.1 -2.3M285.0 277.7l3.8 -2.1M291.1 298.2l5.0 -2.6M312.4 280.4l3.9 -1.6M286.4 281.2l5.2 -2.2M291.5 287.9l4.9 -2.2M301.3 287.5l3.0 -2.2M300.4 289.6l5.2 -2.4M298.0 277.9l3.4 -1.7M284.8 283.5l4.4 -2.5M278.8 293.8l3.9 -2.1M301.8 295.7l3.5 -2.7M302.2 292.7l3.1 -1.6M285.2 284.8l3.3 -1.4M291.9 299.7l3.4 -1.5M303.6 283.3l4.7 -2.4M281.3 279.3l3.1 -2.2M291.5 285.2l3.8 -2.8M311.6 289.5l4.3 -2.7M293.3 277.7l2.6 -1.5M301.2 278.1l5.0 -3.1M305.0 296.5l4.3 -2.3M283.9 294.5l3.2 -2.1M306.7 290.0l5.1 -2.3M298.6 279.0l3.6 -2.8M304.4 280.5l2.4 -1.8M283.1 292.6l2.9 -2.3M286.7 292.5l2.8 -1.2M289.0 287.8l3.6 -2.3M294.9 280.2l2.6 -2.0M299.5 293.0l4.5 -3.0M304.2 282.5l3.1 -1.8M311.9 288.7l2.8 -2.1M302.7 283.6l3.3 -1.6M306.4 295.9l3.8 -2.8M282.8 293.0l4.9 -2.3M284.7 275.7l4.2 -2.2M281.8 278.2l2.9 -1.6M300.3 279.9l3.5 -2.4M296.2 293.9l4.1 -3.1M284.2 281.3l4.5 -2.4M299.7 298.4l3.2 -2.2M301.7 280.4l3.0 -2.1M304.7 296.5l5.3 -2.6M306.0 282.1l4.3 -2.8M278.9 290.0l2.5 -1.9M294.9 277.3l5.2 -2.2M293.7 278.9l3.7 -2.7M295.8 283.2l4.1 -2.0M305.8 276.2l3.3 -2.5M294.7 279.9l3.3 -1.7M287.7 286.5l4.7 -2.4M289.5 285.7l5.3 -2.3M299.4 276.2l4.2 -2.5M281.2 286.0l3.4 -1.8M278.7 294.0l3.9 -1.9M278.9 284.8l4.7 -3.5M278.4 280.8l3.1 -1.5M282.6 287.6l3.2 -1.5M282.9 294.5l3.4 -2.1M281.1 279.4l3.1 -1.3M285.2 293.9l5.2 -2.3M294.3 299.7l3.4 -1.8M294.2 292.8l3.0 -1.5M280.5 295.8l3.2 -2.0M286.1 285.8l3.2 -1.3M308.3 282.5l4.3 -3.0M288.6 278.7l4.7 -2.8M308.7 289.7l4.2 -3.2M323.9 303.5l4.5 -1.0M320.7 309.1l3.7 -1.4M328.5 324.1l3.7 -1.6M341.7 317.3l3.4 -1.3M329.2 316.3l3.4 -0.9M328.3 311.0l4.5 -1.9M332.3 308.1l4.3 -1.8M324.2 318.8l2.9 -1.7M321.8 321.7l3.1 -1.6M321.2 307.4l4.3 -1.2M340.6 325.4l4.6 -1.6M322.5 324.7l3.2 -1.2M337.7 322.9l2.9 -1.2M339.7 320.4l4.7 -1.5M321.5 302.2l2.7 -1.4M336.8 317.2l2.9 -1.5M323.8 316.5l4.7 -1.4M328.5 326.1l3.5 -1.4M325.4 306.5l4.9 -0.9M336.8 305.3l3.0 -1.5M328.3 320.1l3.6 -2.0M335.5 301.7l4.3 -1.7M333.2 312.2l4.1 -0.9M327.4 310.7l4.6 -0.9M341.6 315.3l3.0 -1.5M328.8 319.1l4.0 -2.3M338.1 314.5l4.0 -2.3M329.4 318.1l4.2 -1.4M329.0 325.4l4.8 -0.9M334.5 308.9l3.3 -1.4M340.5 321.2l4.5 -1.1M342.7 318.8l4.1 -1.8M325.9 316.9l4.2 -2.1M331.7 307.5l3.1 -0.6M341.4 320.7l4.0 -2.1M333.4 324.2l3.7 -1.2M341.9 302.7l3.1 -0.8M326.5 303.4l3.8 -0.8M336.6 307.2l4.1 -1.1M322.6 313.3l3.3 -0.9M334.8 308.2l4.5 -1.9M341.8 326.7l3.9 -1.5M338.4 320.6l4.4 -1.7M329.7 325.3l3.0 -1.1M337.7 304.2l3.0 -0.9M343.2 314.5l3.1 -0.9M334.6 310.8l4.2 -2.0M320.7 313.5l4.1 -2.2M340.7 301.6l3.7 -1.4M336.3 319.9l4.5 -1.9M349.4 198.8l2.1 2.5M350.5 200.2l2.1 2.5M351.7 201.5l2.1 2.5M352.8 202.9l2.1 2.5M353.9 204.3l2.1 2.5M355.1 205.7l2.1 2.5M356.2 207.1l2.1 2.5M357.4 208.4l2.1 2.5M358.5 209.8l2.1 2.5M359.7 211.2l2.1 2.5M360.8 212.6l2.1 2.5M361.9 214.0l2.1 2.5M363.1 215.3l2.1 2.5M364.2 216.7l2.1 2.5M365.4 218.1l2.1 2.5M366.5 219.5l2.1 2.5M367.7 220.9l2.1 2.5M368.8 222.3l2.1 2.5M369.9 223.6l2.1 2.5M371.1 225.0l2.1 2.5M372.2 226.4l2.1 2.5M373.4 227.8l2.1 2.5" stroke-width="0.7" opacity="0.5"/>
<path d="M314.5 278.0l0.7 3.9M313.2 297.3l0.7 3.9M314.6 291.5l0.7 3.9M312.5 258.9l0.7 3.9M312.6 265.0l0.7 3.9M311.9 265.2l0.7 3.9M314.1 256.8l0.7 3.9M313.5 267.0l0.7 3.9M314.4 293.7l0.7 3.9M314.2 257.7l0.7 3.9M315.0 289.1l0.7 3.9M314.2 284.8l0.7 3.9M312.8 289.6l0.7 3.9M313.0 280.8l0.7 3.9M312.5 291.1l0.7 3.9M312.8 274.2l0.7 3.9M313.1 290.0l0.7 3.9M314.6 291.3l0.7 3.9M312.6 293.2l0.7 3.9M314.4 296.6l0.7 3.9M313.9 281.9l0.7 3.9M313.8 246.7l0.7 3.9M313.1 274.7l0.7 3.9M313.9 263.0l0.7 3.9M314.6 287.8l0.7 3.9M312.4 256.0l0.7 3.9M311.7 258.0l0.7 3.9M311.6 262.3l0.7 3.9M312.7 288.6l0.7 3.9M311.4 248.0l0.7 3.9M146.7 223.7l4.0 -0.6M153.4 219.7l4.0 -0.6M148.0 226.7l4.0 -0.6M148.6 220.2l4.0 -0.6M141.4 227.5l4.0 -0.6M159.8 228.5l4.0 -0.6M142.0 227.4l4.0 -0.6M149.8 220.1l4.0 -0.6M153.4 222.9l4.0 -0.6M156.2 222.5l4.0 -0.6M158.7 228.6l4.0 -0.6M149.5 220.1l4.0 -0.6M149.7 220.1l4.0 -0.6M153.7 226.0l4.0 -0.6M151.6 229.5l4.0 -0.6M140.9 227.6l4.0 -0.6M156.0 219.4l4.0 -0.6M146.5 220.5l4.0 -0.6M151.7 226.3l4.0 -0.6M147.0 226.8l4.0 -0.6M147.4 226.8l4.0 -0.6M145.6 230.2l4.0 -0.6M148.8 220.2l4.0 -0.6M141.8 227.5l4.0 -0.6M157.3 225.6l4.0 -0.6M143.1 230.5l4.0 -0.6" stroke-width="0.8" opacity="0.5"/>
<path d="M341.1 292.8l1.5 3.9M346.0 294.2l2.0 4.5M344.3 296.5l1.1 5.1M341.5 281.1l1.1 3.1M343.5 288.4l1.5 4.2M342.5 283.9l1.0 3.5M339.0 281.6l1.0 5.0M339.4 275.4l2.3 4.2M341.6 284.6l1.2 3.1M343.1 286.7l1.0 3.9M340.0 278.5l0.9 3.5M347.1 296.8l1.5 3.9M345.1 292.1l1.7 3.5M340.3 281.1l2.1 4.2M341.2 285.4l2.7 5.2M345.9 300.3l0.9 3.4M344.8 296.8l1.4 5.4M342.1 282.7l1.3 2.8M343.3 285.2l1.2 5.7M343.6 286.7l1.1 3.2M343.6 289.4l1.8 4.5M337.2 279.1l1.7 4.2M337.8 285.4l2.0 3.5M344.1 292.4l1.6 3.4M338.8 285.7l1.8 5.4M338.6 277.1l1.4 5.1M343.5 291.4l2.3 5.0M342.2 297.8l0.8 4.2M334.6 274.0l1.2 4.9M337.2 275.1l1.8 5.7M340.9 281.8l1.5 3.3M337.3 276.7l1.2 3.7M335.9 277.0l1.7 3.2M338.9 280.9l2.0 4.0M342.8 283.6l2.0 5.5M338.9 285.6l1.1 3.3M335.2 275.9l1.6 5.7M339.0 283.4l1.5 3.8M341.3 290.8l2.5 5.0M338.6 287.5l1.2 5.1M340.5 281.9l0.8 4.1M338.9 283.8l1.6 4.7M345.4 292.8l1.9 3.6M345.6 295.5l1.6 4.8M342.0 281.5l1.4 4.0" stroke-width="0.8" opacity="0.55"/>
<path d="M302.7 301.5l1.3 3.0M302.4 309.6l1.8 2.8M316.0 308.8l1.4 3.2M315.6 302.9l1.6 3.9M316.5 315.2l1.9 3.6M313.9 307.9l3.0 3.8M313.8 313.4l1.5 3.1M307.5 315.8l1.7 4.5M302.0 313.4l1.8 3.3M302.0 301.3l2.0 3.4M303.7 306.1l2.2 4.0M309.9 301.8l1.4 3.5M316.0 319.9l2.5 3.3M316.5 306.9l1.8 3.2M299.4 303.1l2.2 2.8M310.5 310.3l1.6 4.1M305.6 319.1l1.9 3.6M314.4 313.0l2.3 3.5M304.0 319.3l2.8 4.0M300.3 298.7l1.7 3.0M308.3 300.6l1.7 4.0M311.6 318.3l1.5 4.1M311.6 298.5l2.4 3.0M316.7 305.6l1.4 2.6M306.4 317.8l2.2 4.1M298.9 302.6l2.8 3.8M300.5 318.5l2.7 3.9M308.6 305.3l1.3 3.6M311.6 299.2l2.0 4.6M301.1 315.1l1.9 2.7M305.7 312.2l1.8 4.7M317.1 312.2l1.5 3.0M311.8 310.1l2.6 4.0M303.6 301.8l2.0 2.6M309.4 316.0l2.4 3.2M309.3 310.6l2.2 3.5M299.4 299.8l1.8 3.0M312.9 303.7l1.4 3.2M300.7 309.0l2.0 3.1M312.7 302.8l2.1 4.2M365.3 255.5l2.6 3.1M363.0 255.2l2.6 3.1M367.8 258.4l2.6 3.1M363.7 258.2l2.6 3.1M363.1 257.5l2.6 3.1M364.7 255.1l2.6 3.1M367.2 258.8l2.6 3.1M365.8 255.5l2.6 3.1M366.7 257.1l2.6 3.1M366.7 255.0l2.6 3.1M368.1 254.5l2.6 3.1M364.1 256.9l2.6 3.1M363.9 255.0l2.6 3.1M366.8 260.4l2.6 3.1" stroke-width="0.7" opacity="0.45"/>
<path d="M360.8 254.0l2.8 2.8M363.2 254.5l2.8 2.8M359.5 251.8l2.8 2.8M359.0 253.1l2.8 2.8M359.0 254.7l2.8 2.8M360.7 253.0l2.8 2.8M361.1 256.2l2.8 2.8M359.8 252.3l2.8 2.8M360.1 253.1l2.8 2.8M363.1 255.0l2.8 2.8" stroke-width="1.1" opacity="0.75"/>
<path d="M286.3 195.8l1.9 1.6M271.2 218.1l1.9 1.6M270.0 226.2l1.9 1.6M298.9 203.9l1.9 1.6M294.9 222.6l1.9 1.6M293.0 214.7l1.9 1.6M297.7 217.0l1.9 1.6M296.7 213.8l1.9 1.6M262.9 211.9l1.9 1.6M275.8 204.7l1.9 1.6M270.9 211.6l1.9 1.6M280.5 200.1l1.9 1.6M266.5 211.3l1.9 1.6M276.7 207.9l1.9 1.6M283.9 198.6l1.9 1.6M278.0 202.2l1.9 1.6M288.7 219.3l1.9 1.6M289.2 211.9l1.9 1.6M265.2 228.2l1.9 1.6M277.0 206.2l1.9 1.6M267.1 207.3l1.9 1.6M285.9 223.9l1.9 1.6M275.8 220.4l1.9 1.6M263.6 209.3l1.9 1.6M270.1 203.5l1.9 1.6M270.2 221.4l1.9 1.6M287.0 199.5l1.9 1.6M264.6 222.6l1.9 1.6M283.5 218.2l1.9 1.6M282.6 218.9l1.9 1.6M266.3 193.6l1.9 1.6M270.3 192.5l1.9 1.6M297.3 212.2l1.9 1.6M284.2 229.9l1.9 1.6M290.2 200.4l1.9 1.6M269.2 195.5l1.9 1.6M289.8 220.7l1.9 1.6M276.0 206.0l1.9 1.6M266.2 210.7l1.9 1.6M286.1 227.0l1.9 1.6M292.2 225.9l1.9 1.6M273.8 208.0l1.9 1.6M268.2 230.2l1.9 1.6M266.7 228.1l1.9 1.6M292.4 204.5l1.9 1.6M292.4 226.8l1.9 1.6M273.3 198.9l1.9 1.6M288.8 206.2l1.9 1.6M259.4 227.3l1.9 1.6M273.8 207.1l1.9 1.6M280.8 201.4l1.9 1.6M271.1 191.6l1.9 1.6M270.8 221.6l1.9 1.6M269.0 218.4l1.9 1.6M282.1 198.7l1.9 1.6M281.5 202.9l1.9 1.6" stroke-width="0.6" opacity="0.3"/>
<path d="M164.4 202.2l1.3 0.0M327.6 216.0l1.3 0.0M250.8 262.0l1.3 0.0M322.9 202.2l1.3 0.0M130.8 206.8l1.3 0.0M313.2 243.6l1.3 0.0M270.1 252.8l1.3 0.0M270.1 275.8l1.3 0.0M236.4 289.6l1.3 0.0M361.2 216.0l1.3 0.0M332.5 248.2l1.3 0.0M337.2 308.0l1.3 0.0M327.6 243.6l1.3 0.0M294.1 229.8l1.3 0.0M222.0 248.2l1.3 0.0M385.2 257.4l1.3 0.0M265.2 285.0l1.3 0.0M279.6 321.8l1.3 0.0M380.5 206.8l1.3 0.0M318.1 202.2l1.3 0.0M135.7 197.6l1.3 0.0M265.2 216.0l1.3 0.0M226.8 289.6l1.3 0.0M313.2 271.2l1.3 0.0M222.0 216.0l1.3 0.0M298.9 331.0l1.3 0.0M212.4 271.2l1.3 0.0M202.8 229.8l1.3 0.0M284.5 294.2l1.3 0.0M279.6 197.6l1.3 0.0M207.7 229.8l1.3 0.0M322.9 229.8l1.3 0.0M337.2 220.6l1.3 0.0M255.7 243.6l1.3 0.0M265.2 202.2l1.3 0.0M303.6 220.6l1.3 0.0M322.9 257.4l1.3 0.0M375.6 211.4l1.3 0.0M255.7 211.4l1.3 0.0M356.5 321.8l1.3 0.0M193.2 206.8l1.3 0.0M327.6 308.0l1.3 0.0M265.2 285.0l1.3 0.0M346.9 243.6l1.3 0.0M212.4 225.2l1.3 0.0M265.2 303.4l1.3 0.0M154.8 202.2l1.3 0.0M265.2 280.4l1.3 0.0M298.9 248.2l1.3 0.0M265.2 266.6l1.3 0.0M385.2 206.8l1.3 0.0M356.5 220.6l1.3 0.0M342.1 252.8l1.3 0.0" stroke-width="1.0" opacity="0.45"/>
<path d="M270.1 225.2l1.3 0.0M246.0 326.4l1.3 0.0M298.9 303.4l1.3 0.0M130.8 211.4l1.3 0.0M404.4 216.0l1.3 0.0M241.2 239.0l1.3 0.0M327.6 285.0l1.3 0.0M250.8 266.6l1.3 0.0M380.5 206.8l1.3 0.0M294.1 331.0l1.3 0.0M294.1 243.6l1.3 0.0M274.9 225.2l1.3 0.0M414.1 220.6l1.3 0.0M375.6 211.4l1.3 0.0M202.8 243.6l1.3 0.0M241.2 211.4l1.3 0.0M135.7 225.2l1.3 0.0M409.2 216.0l1.3 0.0M414.1 193.0l1.3 0.0M351.6 275.8l1.3 0.0M385.2 248.2l1.3 0.0M279.6 308.0l1.3 0.0M188.4 220.6l1.3 0.0M246.0 271.2l1.3 0.0M385.2 248.2l1.3 0.0M279.6 220.6l1.3 0.0M298.9 220.6l1.3 0.0M394.9 206.8l1.3 0.0M202.8 252.8l1.3 0.0M207.7 266.6l1.3 0.0M394.9 193.0l1.3 0.0M342.1 335.6l1.3 0.0M394.9 225.2l1.3 0.0M428.4 193.0l1.3 0.0M322.9 239.0l1.3 0.0M260.5 252.8l1.3 0.0M150.0 229.8l1.3 0.0M342.1 239.0l1.3 0.0M356.5 312.6l1.3 0.0M207.7 248.2l1.3 0.0M265.2 211.4l1.3 0.0M154.8 197.6l1.3 0.0M198.0 216.0l1.3 0.0M289.2 211.4l1.3 0.0M222.0 206.8l1.3 0.0" stroke-width="1.0" opacity="0.2"/>
<path d="M308.5 262.0l1.3 0.0M375.6 280.4l1.3 0.0M274.9 331.0l1.3 0.0M375.6 220.6l1.3 0.0M418.9 216.0l1.3 0.0M241.2 193.0l1.3 0.0M279.6 225.2l1.3 0.0M303.6 271.2l1.3 0.0M385.2 225.2l1.3 0.0M231.7 225.2l1.3 0.0M294.1 321.8l1.3 0.0M246.0 257.4l1.3 0.0M351.6 234.4l1.3 0.0M135.7 229.8l1.3 0.0M332.5 271.2l1.3 0.0M313.2 234.4l1.3 0.0M270.1 303.4l1.3 0.0M265.2 298.8l1.3 0.0M361.2 294.2l1.3 0.0M193.2 239.0l1.3 0.0M289.2 234.4l1.3 0.0M327.6 262.0l1.3 0.0M303.6 220.6l1.3 0.0M322.9 225.2l1.3 0.0M308.5 252.8l1.3 0.0M260.5 193.0l1.3 0.0M366.1 239.0l1.3 0.0M260.5 326.4l1.3 0.0M404.4 234.4l1.3 0.0M260.5 252.8l1.3 0.0M241.2 220.6l1.3 0.0M231.7 220.6l1.3 0.0M198.0 252.8l1.3 0.0M361.2 303.4l1.3 0.0M250.8 257.4l1.3 0.0M212.4 243.6l1.3 0.0M337.2 298.8l1.3 0.0M274.9 229.8l1.3 0.0M313.2 257.4l1.3 0.0M332.5 216.0l1.3 0.0M154.8 211.4l1.3 0.0M270.1 280.4l1.3 0.0M246.0 220.6l1.3 0.0M246.0 248.2l1.3 0.0M274.9 303.4l1.3 0.0M414.1 220.6l1.3 0.0M346.9 197.6l1.3 0.0M241.2 229.8l1.3 0.0" stroke-width="1.0" opacity="0.3"/>
</g>
</g><g filter="url(#f1b2)" stroke="#101018" fill="none">
<path d="M272.0 187.2l1.9 2.8M275.7 187.2l1.9 2.8M279.4 187.2l1.9 2.8M283.1 184.1l4.1 5.9M286.8 184.1l4.1 5.9M290.5 184.1l4.1 5.9M294.2 184.1l4.1 5.9M297.9 184.1l4.1 5.9M301.6 184.1l4.1 5.9M305.3 184.1l4.1 5.9M309.0 184.1l4.1 5.9M312.7 184.1l4.1 5.9M316.4 184.1l4.1 5.9M320.1 185.7l3.0 4.3M323.8 185.7l3.0 4.3M327.5 185.7l3.0 4.3M331.2 185.7l3.0 4.3M334.9 187.1l2.0 2.9M338.6 187.1l2.0 2.9M342.3 187.1l2.0 2.9M346.0 187.1l2.0 2.9" stroke-width="1.5" opacity=".92"/>
<path d="M296 188.4H312" stroke-width="2.4" opacity=".7"/>
<path d="M131.5 189.4H432.5" stroke="#7a1a00" stroke-width="1" stroke-dasharray="2 1.6" opacity=".55" fill="none"/>
<path d="M131.7 189.4V237" stroke="#7a1a00" stroke-width="0.8" stroke-dasharray="2 2.6" opacity=".4" fill="none"/>
</g>
<g fill="#444" font-size="15" filter="url(#f1b2)">
<text x="81" y="206.2" textLength="40.5" lengthAdjust="spacingAndGlyphs" font-size="14.6">STATE</text>
<text x="104" y="233.0" textLength="18.5" lengthAdjust="spacingAndGlyphs">2.8</text>
<text x="104" y="251.3" textLength="18.5" lengthAdjust="spacingAndGlyphs">2.4</text>
<text x="104" y="269.5" textLength="7.4" lengthAdjust="spacingAndGlyphs">2</text>
<text x="104" y="287.8" textLength="18.5" lengthAdjust="spacingAndGlyphs">1.8</text>
<text x="104" y="306.1" textLength="18.5" lengthAdjust="spacingAndGlyphs">1.6</text>
<text x="104" y="324.3" textLength="18.5" lengthAdjust="spacingAndGlyphs">1.2</text>
<text x="104" y="342.6" textLength="7.4" lengthAdjust="spacingAndGlyphs">1</text>
<text x="104" y="360.9" textLength="18.5" lengthAdjust="spacingAndGlyphs">0.8</text>
<text x="104" y="379.2" textLength="18.5" lengthAdjust="spacingAndGlyphs">0.6</text>
<text x="104" y="397.4" textLength="18.5" lengthAdjust="spacingAndGlyphs">0.4</text>
</g></g>
</g>
<g id="fig2">
<defs><filter id="f2b" x="-5%" y="-5%" width="110%" height="110%"><feGaussianBlur stdDeviation="0.5"/></filter><filter id="f2s" x="-20%" y="-20%" width="140%" height="140%"><feGaussianBlur stdDeviation="2.2"/></filter><filter id="f2s1" x="-20%" y="-20%" width="140%" height="140%"><feGaussianBlur stdDeviation="1.2"/></filter></defs>
<g filter="url(#f2b)">
<polygon points="591.2,180.8 763.8,207.3 781.8,352.9 608.4,328.5" fill="#dfdfdf"/>
<polygon points="544.0,218.8 591.2,180.8 608.4,328.5 561.2,366.6" fill="#c6c6c6"/>
<polygon points="561.2,366.6 608.4,328.5 781.8,352.9 735.2,392.0" fill="#9e9e9e"/>
<path d="M621.1 185.4L638.4 332.7M638.4 332.7L591.3 371.0M662.7 191.8L680.2 338.6M680.2 338.6L633.2 377.1M704.8 198.2L722.5 344.6M722.5 344.6L675.7 383.3M746.9 204.7L764.8 350.5M764.8 350.5L718.1 389.5M591.5 183.8L764.2 210.2M544.3 221.8L591.5 183.8M594.1 205.3L766.8 231.5M546.9 243.3L594.1 205.3M596.6 227.2L769.5 253.0M549.4 265.2L596.6 227.2M599.1 249.0L772.1 274.6M551.9 287.1L599.1 249.0M601.7 270.9L774.8 296.1M554.5 309.0L601.7 270.9M604.2 292.8L777.4 317.7M557.0 330.8L604.2 292.8M606.8 314.6L780.1 339.2M559.6 352.7L606.8 314.6M547.6 215.9L564.8 363.7M564.8 363.7L738.8 389.0M559.2 206.5L576.4 354.3M576.4 354.3L750.3 379.4M570.1 197.8L587.3 345.5M587.3 345.5L761.0 370.4M581.2 188.9L598.4 336.6M598.4 336.6L771.9 361.2" stroke="#2e2e2e" stroke-width="0.8" fill="none"/>
<path d="M561.2 366.6L544.0 218.8L591.2 180.8L763.8 207.3L781.8 352.9L735.2 392.0L561.2 366.6M591.2 180.8L608.4 328.5L781.8 352.9M608.4 328.5L561.2 366.6" stroke="#0a0a0a" stroke-width="1.9" fill="none" stroke-linejoin="round"/>
<polygon points="603.1,230.0 759.1,253.3 717.9,288.1 692.5,284.1 660.9,280.2 613.4,267.5 607.0,263.9 592.8,263.1 586.4,257.4 567.4,264.5 560.3,263.7" fill="#00009c"/>
<polygon points="586.4,257.4 616.5,254.1 638.7,258.0 613.4,265.9 592.8,263.1" fill="#000070" opacity=".6" filter="url(#f2s1)"/>
<clipPath id="k2"><path d="M607.0 263.6C607.5 264.6 611.2 266.9 613.4 269.1C615.5 271.3 617.8 274.1 619.7 277.0C621.5 279.9 622.9 283.4 624.4 286.5C626.0 289.7 627.6 292.9 629.2 296.0C630.8 299.2 632.1 302.4 634.0 305.5C635.8 308.7 638.2 312.1 640.3 315.0C642.4 317.9 644.5 320.6 646.6 322.9C648.7 325.3 650.8 327.8 653.0 329.3C655.1 330.7 657.2 331.5 659.3 331.7C661.4 331.8 663.5 331.5 665.6 330.1C667.7 328.6 670.1 326.0 672.0 322.9C673.8 319.9 675.4 315.3 676.7 311.9C678.0 308.4 678.6 305.8 679.9 302.4C681.2 298.9 682.8 294.4 684.6 291.3C686.5 288.1 688.6 285.7 691.0 283.4C693.3 281.0 697.0 278.9 698.9 277.0C700.8 275.2 702.1 273.9 702.4 272.3C702.6 270.7 702.1 268.7 700.5 267.5C698.8 266.3 696.0 265.7 692.5 265.1C689.1 264.6 683.6 265.1 679.9 264.4C676.2 263.6 673.5 262.3 670.4 260.9C667.2 259.4 664.0 256.8 660.9 255.6C657.7 254.5 654.0 253.9 651.4 254.1C648.7 254.2 648.2 255.5 645.0 256.4C641.9 257.4 636.6 258.9 632.4 259.6C628.1 260.3 623.4 259.9 619.7 260.4C616.0 260.9 612.3 262.2 610.2 262.8C608.1 263.3 606.5 262.5 607.0 263.6Z"/></clipPath>
<path d="M607.0 263.6C607.5 264.6 611.2 266.9 613.4 269.1C615.5 271.3 617.8 274.1 619.7 277.0C621.5 279.9 622.9 283.4 624.4 286.5C626.0 289.7 627.6 292.9 629.2 296.0C630.8 299.2 632.1 302.4 634.0 305.5C635.8 308.7 638.2 312.1 640.3 315.0C642.4 317.9 644.5 320.6 646.6 322.9C648.7 325.3 650.8 327.8 653.0 329.3C655.1 330.7 657.2 331.5 659.3 331.7C661.4 331.8 663.5 331.5 665.6 330.1C667.7 328.6 670.1 326.0 672.0 322.9C673.8 319.9 675.4 315.3 676.7 311.9C678.0 308.4 678.6 305.8 679.9 302.4C681.2 298.9 682.8 294.4 684.6 291.3C686.5 288.1 688.6 285.7 691.0 283.4C693.3 281.0 697.0 278.9 698.9 277.0C700.8 275.2 702.1 273.9 702.4 272.3C702.6 270.7 702.1 268.7 700.5 267.5C698.8 266.3 696.0 265.7 692.5 265.1C689.1 264.6 683.6 265.1 679.9 264.4C676.2 263.6 673.5 262.3 670.4 260.9C667.2 259.4 664.0 256.8 660.9 255.6C657.7 254.5 654.0 253.9 651.4 254.1C648.7 254.2 648.2 255.5 645.0 256.4C641.9 257.4 636.6 258.9 632.4 259.6C628.1 260.3 623.4 259.9 619.7 260.4C616.0 260.9 612.3 262.2 610.2 262.8C608.1 263.3 606.5 262.5 607.0 263.6Z" fill="#06ee5c"/>
<g clip-path="url(#k2)">
<path d="M603.9 261.2C604.1 258.3 612.8 259.6 619.7 258.0C626.6 256.4 637.6 252.5 645.0 251.7C652.4 250.9 656.1 251.4 664.0 253.3C672.0 255.1 685.4 259.9 692.5 262.8C699.7 265.7 705.7 267.2 706.8 270.7C707.9 274.1 701.8 281.8 698.9 283.4C696.0 284.9 693.1 281.8 689.4 280.2C685.7 278.6 681.5 275.2 676.7 273.9C672.0 272.5 666.1 272.0 660.9 272.3C655.6 272.5 650.3 274.4 645.0 275.4C639.8 276.5 633.7 278.6 629.2 278.6C624.7 278.6 622.3 278.3 618.1 275.4C613.9 272.5 603.6 264.1 603.9 261.2Z" fill="#22e8cc" filter="url(#f2s)"/>
<path d="M603.9 261.5C604.4 260.0 612.8 259.9 619.7 258.3C626.6 256.7 637.6 252.8 645.0 252.0C652.4 251.2 656.1 251.7 664.0 253.6C672.0 255.4 685.6 260.2 692.5 263.1C699.5 265.9 704.6 268.8 706.0 270.7C707.5 272.6 704.0 275.0 701.3 274.6C698.5 274.2 693.5 269.8 689.4 268.3C685.3 266.9 681.5 267.2 676.7 265.9C672.0 264.6 666.1 261.1 660.9 260.4C655.6 259.7 650.3 260.6 645.0 261.5C639.8 262.4 633.9 264.9 629.2 265.9C624.4 266.9 620.7 268.3 616.5 267.5C612.3 266.8 603.3 263.0 603.9 261.5Z" fill="#2aa8e8" filter="url(#f2s1)"/>
<circle cx="618.11" cy="265.14" r="2.7" fill="#30c8e0" filter="url(#f2b)"/>
<circle cx="629.19" cy="262.45" r="3.0" fill="#2a9ae6" filter="url(#f2b)"/>
<circle cx="638.7" cy="265.14" r="2.7" fill="#30d8d8" filter="url(#f2b)"/>
<circle cx="648.2" cy="258.01" r="3.3" fill="#30b0e4" filter="url(#f2b)"/>
<circle cx="657.7" cy="259.91" r="3.0" fill="#2cc0e0" filter="url(#f2b)"/>
<circle cx="667.21" cy="263.56" r="2.7" fill="#2a9ae6" filter="url(#f2b)"/>
<circle cx="676.71" cy="267.52" r="2.7" fill="#30d0d8" filter="url(#f2b)"/>
<circle cx="686.21" cy="268.31" r="2.7" fill="#2a90e0" filter="url(#f2b)"/>
<circle cx="697.3" cy="271.48" r="3.0" fill="#28a0d8" filter="url(#f2b)"/>
<circle cx="652.95" cy="265.93" r="3.6" fill="#28e4d0" filter="url(#f2b)"/>
<circle cx="670.38" cy="270.68" r="3.0" fill="#28e4d0" filter="url(#f2b)"/>
<path d="M664.0 272.3C665.1 271.2 671.7 274.4 673.5 277.0C675.4 279.7 675.7 284.9 675.1 288.1C674.6 291.3 672.0 295.0 670.4 296.0C668.8 297.1 666.1 296.6 665.6 294.4C665.1 292.3 667.5 287.1 667.2 283.4C666.9 279.7 663.0 273.3 664.0 272.3Z" fill="#30dcc0" filter="url(#f2s1)" opacity=".8"/>
<path d="M681.5 283.4C684.4 279.1 689.1 278.9 692.5 277.0C696.0 275.2 702.0 270.7 702.0 272.3C702.0 273.9 695.7 282.6 692.5 286.5C689.4 290.5 685.7 291.3 683.0 296.0C680.4 300.8 678.6 310.3 676.7 315.0C674.9 319.8 672.2 326.7 672.0 324.5C671.7 322.4 673.5 309.2 675.1 302.4C676.7 295.5 678.6 287.6 681.5 283.4Z" fill="#0a9c3c" filter="url(#f2s)" opacity=".75"/>
<path d="M613.4 269.1C612.3 268.6 617.1 272.5 619.7 277.0C622.3 281.5 625.8 289.7 629.2 296.0C632.6 302.4 636.6 309.8 640.3 315.0C644.0 320.3 650.6 327.7 651.4 327.7C652.2 327.7 647.7 320.3 645.0 315.0C642.4 309.8 638.7 301.8 635.5 296.0C632.4 290.2 629.7 284.7 626.0 280.2C622.3 275.7 614.4 269.6 613.4 269.1Z" fill="#10b850" filter="url(#f2s)" opacity=".6"/>
<ellipse cx="659.6" cy="322.64" rx="9.5" ry="9" fill="#80f020" filter="url(#f2s1)"/>
<ellipse cx="661.19" cy="322.16" rx="5" ry="6.6" fill="#e2f410" filter="url(#f2b)" transform="rotate(18 661.19 322.16)"/>
</g>
<path d="M758.5 147.5L762.2 184.6L791.2 189.1" stroke="#111" stroke-width="1.5" fill="none"/>
<path d="M776.4 173.1L781.8 169.3" stroke="#111" stroke-width="1.3" fill="none"/>
<polygon points="762.9,173.6 770.7,174.9 771.7,184.6 763.3,183.7" fill="#dcdcdc"/><polygon points="762.9,173.2 768.3,169.1 776.1,170.4 770.7,174.5" fill="#8c8c8c"/><polygon points="770.7,174.5 776.1,170.4 776.7,180.6 771.7,184.6" fill="#a8a8a8"/>
<text x="757.1" y="143.3" font-size="11" fill="#444" text-anchor="middle">Z</text>
<text x="785.4" y="169.6" font-size="11" fill="#444" text-anchor="middle">Y</text>
<text x="798.7" y="194.3" font-size="11" fill="#444" text-anchor="middle">X</text>
<rect x="782.4" y="204.8" width="61.3" height="153.8" fill="#fff" stroke="#8a8a8a" stroke-width="1"/>
<rect x="787.7" y="225.1" width="13.8" height="6.9" fill="#f00000"/>
<rect x="787.7" y="231.8" width="13.8" height="12.6" fill="#ff6000"/>
<rect x="787.7" y="244.2" width="13.8" height="12.5" fill="#ffc800"/>
<rect x="787.7" y="256.5" width="13.8" height="12.4" fill="#c8f000"/>
<rect x="787.7" y="268.7" width="13.8" height="12.4" fill="#60f000"/>
<rect x="787.7" y="280.9" width="13.8" height="12.0" fill="#00f000"/>
<rect x="787.7" y="292.7" width="13.8" height="12.6" fill="#00f060"/>
<rect x="787.7" y="305.1" width="13.8" height="12.4" fill="#00f0c8"/>
<rect x="787.7" y="317.3" width="13.8" height="12.6" fill="#00c8ff"/>
<rect x="787.7" y="329.7" width="13.8" height="12.0" fill="#0060ff"/>
<rect x="787.7" y="341.5" width="13.8" height="6.7" fill="#0000f0"/>
<path d="M787.7 231.8h13.8M787.7 244.2h13.8M787.7 256.5h13.8M787.7 268.7h13.8M787.7 280.9h13.8M787.7 292.7h13.8M787.7 305.1h13.8M787.7 317.3h13.8M787.7 329.7h13.8M787.7 341.5h13.8" stroke="#000" stroke-width="0.8" opacity=".55" fill="none"/>
<text x="791.8" y="219.6" font-size="11.2" fill="#4a4a4a" textLength="45.3" lengthAdjust="spacingAndGlyphs">INTENSITY</text>
<text x="808" y="237.0" font-size="11" fill="#4a4a4a" textLength="25.3" lengthAdjust="spacingAndGlyphs">1E+10</text>
<text x="808" y="249.3" font-size="11" fill="#4a4a4a" textLength="25.3" lengthAdjust="spacingAndGlyphs">9E+09</text>
<text x="808" y="261.6" font-size="11" fill="#4a4a4a" textLength="25.3" lengthAdjust="spacingAndGlyphs">6E+09</text>
<text x="808" y="273.9" font-size="11" fill="#4a4a4a" textLength="25.3" lengthAdjust="spacingAndGlyphs">2E+09</text>
<text x="808" y="286.2" font-size="11" fill="#4a4a4a" textLength="25.3" lengthAdjust="spacingAndGlyphs">1E+09</text>
<text x="808" y="298.5" font-size="11" fill="#4a4a4a" textLength="25.3" lengthAdjust="spacingAndGlyphs">9E+08</text>
<text x="808" y="310.8" font-size="11" fill="#4a4a4a" textLength="25.3" lengthAdjust="spacingAndGlyphs">9E+07</text>
<text x="808" y="323.1" font-size="11" fill="#4a4a4a" textLength="25.3" lengthAdjust="spacingAndGlyphs">9E+06</text>
<text x="808" y="335.4" font-size="11" fill="#4a4a4a" textLength="30.4" lengthAdjust="spacingAndGlyphs">900000</text>
<text x="808" y="347.7" font-size="11" fill="#4a4a4a" textLength="25.3" lengthAdjust="spacingAndGlyphs">90000</text>
<g font-size="8" fill="#333">
<text x="522.2" y="227.8" textLength="19.7" lengthAdjust="spacingAndGlyphs">0.0004</text>
<text x="523.1" y="248.6" textLength="19.7" lengthAdjust="spacingAndGlyphs">0.0002</text>
<text x="543.5" y="270.5" textLength="3.5" lengthAdjust="spacingAndGlyphs">0</text>
<text x="527.3" y="292.3" textLength="22.1" lengthAdjust="spacingAndGlyphs">-0.0002</text>
<text x="529.9" y="313.5" textLength="22.1" lengthAdjust="spacingAndGlyphs">-0.0004</text>
<text x="532.1" y="335.3" textLength="22.1" lengthAdjust="spacingAndGlyphs">-0.0006</text>
<text x="535.4" y="356.5" textLength="22.1" lengthAdjust="spacingAndGlyphs">-0.0008</text>
<text x="576.7" y="377.9" textLength="22.1" lengthAdjust="spacingAndGlyphs">-0.0005</text>
<text x="628.2" y="384.5" textLength="3.5" lengthAdjust="spacingAndGlyphs">0</text>
<text x="662.3" y="391.0" textLength="19.7" lengthAdjust="spacingAndGlyphs">0.0005</text>
<text x="705.8" y="397.5" textLength="16.1" lengthAdjust="spacingAndGlyphs">0.001</text>
<text x="740.6" y="396.5" textLength="3.5" lengthAdjust="spacingAndGlyphs">0</text>
<text x="751.2" y="387.4" textLength="19.7" lengthAdjust="spacingAndGlyphs">0.0002</text>
<text x="762.6" y="378.6" textLength="19.7" lengthAdjust="spacingAndGlyphs">0.0004</text>
<text x="774.0" y="369.8" textLength="19.7" lengthAdjust="spacingAndGlyphs">0.0006</text>
</g>
<text x="638.8" y="392.7" font-size="9" font-weight="bold" font-style="italic" fill="#111" text-anchor="middle" transform="rotate(8 638.8 389.7)">X</text>
<text x="541.1" y="302.8" font-size="9" font-weight="bold" fill="#111" text-anchor="middle" transform="rotate(-80 541.1 299.8)">Z</text>
<text x="775.9" y="382.0" font-size="9" font-weight="bold" fill="#111" text-anchor="middle" transform="rotate(-40 775.9 379.0)">Y</text>
</g>
<g filter="url(#f2b)">
<polygon points="1007.7,197.1 1186.3,221.9 1205.1,359.0 1024.6,336.5" fill="#dfdfdf"/>
<polygon points="958.0,232.7 1007.7,197.1 1024.6,336.5 976.1,372.0" fill="#c6c6c6"/>
<polygon points="976.1,372.0 1024.6,336.5 1205.1,359.0 1156.0,396.3" fill="#9e9e9e"/>
<path d="M1038.6 201.4L1055.8 340.4M1055.8 340.4L1007.2 376.2M1081.6 207.4L1099.3 345.8M1099.3 345.8L1050.6 382.1M1125.2 213.4L1143.4 351.3M1143.4 351.3L1094.5 388.0M1168.8 219.5L1187.4 356.8M1187.4 356.8L1138.4 393.9M1008.0 199.9L1186.7 224.6M958.4 235.5L1008.0 199.9M1010.5 220.2L1189.4 244.7M961.0 255.8L1010.5 220.2M1013.0 240.9L1192.2 264.9M963.7 276.4L1013.0 240.9M1015.5 261.5L1195.0 285.2M966.4 297.1L1015.5 261.5M1018.0 282.1L1197.8 305.5M969.0 317.7L1018.0 282.1M1020.5 302.8L1200.6 325.8M971.7 338.3L1020.5 302.8M1023.0 323.4L1203.3 346.1M974.4 358.9L1023.0 323.4M961.8 230.0L979.8 369.3M979.8 369.3L1159.8 393.4M974.1 221.2L991.8 360.5M991.8 360.5L1171.9 384.3M985.5 213.0L1002.9 352.4M1002.9 352.4L1183.2 375.7M997.2 204.6L1014.3 344.0M1014.3 344.0L1194.7 366.9" stroke="#2e2e2e" stroke-width="0.8" fill="none"/>
<path d="M976.1 372.0L958.0 232.7L1007.7 197.1L1186.3 221.9L1205.1 359.0L1156.0 396.3L976.1 372.0M1007.7 197.1L1024.6 336.5L1205.1 359.0M1024.6 336.5L976.1 372.0" stroke="#0a0a0a" stroke-width="1.9" fill="none" stroke-linejoin="round"/>
<clipPath id="p3"><polygon points="1018.9,243.2 1182.0,265.6 1138.1,297.9 1110.8,293.8 1069.3,288.0 1019.7,276.4 1004.8,269.4 1003.1,268.1 981.6,276.0 975.0,274.7"/></clipPath>
<polygon points="1018.9,243.2 1182.0,265.6 1138.1,297.9 1110.8,293.8 1069.3,288.0 1019.7,276.4 1004.8,269.4 1003.1,268.1 981.6,276.0 975.0,274.7" fill="#00009c"/>
<g clip-path="url(#p3)">
<path d="M973.3 275.5C973.0 269.6 1004.8 248.6 1018.0 244.1C1031.3 239.5 1041.5 246.1 1052.8 248.2C1064.1 250.3 1076.0 253.5 1085.9 256.5C1095.8 259.5 1105.5 262.8 1112.4 266.4C1119.3 270.0 1124.5 274.7 1127.3 278.0C1130.1 281.3 1130.3 283.3 1129.0 286.3C1127.6 289.3 1126.2 294.6 1119.0 296.2C1111.9 297.9 1102.5 299.0 1085.9 296.2C1069.4 293.5 1038.4 283.1 1019.7 279.7C1000.9 276.2 973.6 281.5 973.3 275.5Z" fill="#0046a4"/>
<path d="M1004.6 266.9C1005.5 265.4 1022.0 261.9 1029.3 260.1C1036.6 258.3 1043.4 256.3 1048.4 255.8C1053.5 255.4 1055.4 256.2 1059.7 257.4C1064.0 258.6 1069.0 260.9 1074.3 262.9C1079.5 265.0 1085.5 267.6 1091.1 269.7C1096.7 271.7 1103.9 273.6 1108.0 275.3C1112.1 276.9 1118.6 279.2 1115.8 279.4C1113.0 279.7 1100.9 278.7 1091.1 277.0C1081.4 275.2 1068.7 270.5 1057.4 269.1C1046.2 267.7 1032.5 268.9 1023.7 268.5C1014.9 268.2 1003.7 268.3 1004.6 266.9Z" fill="#1a96a8" filter="url(#f2s1)"/>
<polygon points="1017.7,243.1 1038.1,246.0 1023.5,249.8 1006.0,253.1" fill="#00109c" filter="url(#f2s1)"/>
<path d="M1075.4 266.9C1076.1 266.3 1085.9 269.3 1091.1 270.8C1096.4 272.3 1105.0 274.7 1106.8 275.8C1108.7 277.0 1105.7 277.8 1102.4 277.5C1099.0 277.2 1091.1 275.9 1086.6 274.2C1082.1 272.4 1074.6 267.4 1075.4 266.9Z" fill="#14c4c0" filter="url(#f2s1)"/>
</g>
<clipPath id="k3"><path d="M1004.0 268.4C1002.3 269.7 1006.3 272.8 1009.7 274.4C1013.2 276.0 1020.8 276.6 1024.6 278.0C1028.5 279.5 1030.4 280.8 1032.9 283.0C1035.4 285.2 1037.6 288.2 1039.5 291.3C1041.5 294.3 1042.9 297.9 1044.5 301.2C1046.2 304.5 1047.5 307.8 1049.5 311.1C1051.4 314.5 1053.9 318.0 1056.1 321.1C1058.3 324.1 1060.5 326.9 1062.7 329.4C1064.9 331.8 1067.1 334.3 1069.3 336.0C1071.6 337.6 1073.8 339.0 1076.0 339.3C1078.2 339.6 1080.4 339.0 1082.6 337.6C1084.8 336.2 1087.3 333.5 1089.2 331.0C1091.2 328.5 1092.8 325.5 1094.2 322.7C1095.6 320.0 1096.4 317.5 1097.5 314.4C1098.6 311.4 1099.4 307.6 1100.8 304.5C1102.2 301.5 1103.8 298.4 1105.8 296.2C1107.7 294.0 1110.3 293.2 1112.4 291.3C1114.5 289.3 1117.0 286.6 1118.2 284.6C1119.4 282.7 1120.0 281.0 1119.4 279.7C1118.7 278.4 1116.9 277.6 1114.1 276.9C1111.2 276.1 1106.1 276.0 1102.5 275.0C1098.9 274.1 1095.9 272.4 1092.5 271.4C1089.2 270.4 1086.5 269.7 1082.6 268.9C1078.7 268.1 1074.3 267.3 1069.3 266.8C1064.4 266.2 1058.3 265.8 1052.8 265.6C1047.3 265.4 1041.8 265.4 1036.2 265.6C1030.7 265.8 1025.1 266.3 1019.7 266.8C1014.3 267.2 1005.6 267.2 1004.0 268.4Z"/></clipPath>
<path d="M1004.0 268.4C1002.3 269.7 1006.3 272.8 1009.7 274.4C1013.2 276.0 1020.8 276.6 1024.6 278.0C1028.5 279.5 1030.4 280.8 1032.9 283.0C1035.4 285.2 1037.6 288.2 1039.5 291.3C1041.5 294.3 1042.9 297.9 1044.5 301.2C1046.2 304.5 1047.5 307.8 1049.5 311.1C1051.4 314.5 1053.9 318.0 1056.1 321.1C1058.3 324.1 1060.5 326.9 1062.7 329.4C1064.9 331.8 1067.1 334.3 1069.3 336.0C1071.6 337.6 1073.8 339.0 1076.0 339.3C1078.2 339.6 1080.4 339.0 1082.6 337.6C1084.8 336.2 1087.3 333.5 1089.2 331.0C1091.2 328.5 1092.8 325.5 1094.2 322.7C1095.6 320.0 1096.4 317.5 1097.5 314.4C1098.6 311.4 1099.4 307.6 1100.8 304.5C1102.2 301.5 1103.8 298.4 1105.8 296.2C1107.7 294.0 1110.3 293.2 1112.4 291.3C1114.5 289.3 1117.0 286.6 1118.2 284.6C1119.4 282.7 1120.0 281.0 1119.4 279.7C1118.7 278.4 1116.9 277.6 1114.1 276.9C1111.2 276.1 1106.1 276.0 1102.5 275.0C1098.9 274.1 1095.9 272.4 1092.5 271.4C1089.2 270.4 1086.5 269.7 1082.6 268.9C1078.7 268.1 1074.3 267.3 1069.3 266.8C1064.4 266.2 1058.3 265.8 1052.8 265.6C1047.3 265.4 1041.8 265.4 1036.2 265.6C1030.7 265.8 1025.1 266.3 1019.7 266.8C1014.3 267.2 1005.6 267.2 1004.0 268.4Z" fill="#f4e000"/>
<g clip-path="url(#k3)">
<path d="M999.8 266.4C1001.7 263.4 1021.9 261.6 1036.2 261.5C1050.6 261.3 1071.3 262.8 1085.9 265.6C1100.5 268.4 1118.5 273.5 1124.0 278.0C1129.5 282.6 1122.1 289.3 1119.0 292.9C1116.0 296.5 1109.6 297.1 1105.8 299.6C1101.9 302.0 1098.6 305.6 1095.8 307.8C1093.1 310.0 1091.2 312.8 1089.2 312.8C1087.3 312.8 1087.0 311.1 1084.3 307.8C1081.5 304.5 1076.8 296.5 1072.7 292.9C1068.5 289.3 1064.9 287.4 1059.4 286.3C1053.9 285.2 1045.3 287.4 1039.5 286.3C1033.8 285.2 1031.3 283.0 1024.6 279.7C1018.0 276.4 997.9 269.5 999.8 266.4Z" fill="#9cf00c" filter="url(#f2s1)"/>
<path d="M999.8 266.4C1002.6 264.2 1021.9 262.3 1036.2 262.3C1050.6 262.3 1071.3 263.8 1085.9 266.4C1100.5 269.1 1118.8 274.4 1124.0 278.0C1129.2 281.6 1121.0 286.6 1117.4 288.0C1113.8 289.3 1107.7 287.1 1102.5 286.3C1097.2 285.5 1092.5 284.4 1085.9 283.0C1079.3 281.6 1071.0 279.4 1062.7 278.0C1054.5 276.6 1043.4 275.1 1036.2 274.7C1029.1 274.3 1025.8 276.9 1019.7 275.5C1013.6 274.2 997.0 268.6 999.8 266.4Z" fill="#30d028" filter="url(#f2s1)"/>
<path d="M1062.7 268.9C1065.5 268.4 1080.4 269.6 1085.9 270.6C1091.4 271.5 1095.8 273.5 1095.8 274.7C1095.8 276.0 1090.3 278.2 1085.9 278.0C1081.5 277.9 1073.2 275.4 1069.3 273.9C1065.5 272.4 1060.0 269.5 1062.7 268.9Z" fill="#10e090" filter="url(#f2s1)" opacity=".8"/>
<path d="M1008.1 269.7C1010.9 268.5 1027.1 267.0 1036.2 267.3C1045.3 267.5 1062.2 270.3 1062.7 271.4C1063.3 272.5 1046.7 273.3 1039.5 273.9C1032.4 274.4 1024.9 275.4 1019.7 274.7C1014.4 274.0 1005.3 271.0 1008.1 269.7Z" fill="#189818" filter="url(#f2s1)" opacity=".7"/>
<path d="M1107.4 296.2C1110.5 292.1 1113.8 289.9 1115.7 288.0C1117.7 286.0 1119.6 282.7 1119.0 284.6C1118.5 286.6 1114.9 295.4 1112.4 299.6C1109.9 303.7 1106.3 305.6 1104.1 309.5C1101.9 313.3 1101.1 318.9 1099.2 322.7C1097.2 326.6 1092.8 334.3 1092.5 332.7C1092.3 331.0 1095.0 318.9 1097.5 312.8C1100.0 306.7 1104.4 300.4 1107.4 296.2Z" fill="#d8b000" filter="url(#f2s1)" opacity=".7"/>
<path d="M1068.7 333.1C1068.5 331.1 1070.3 329.0 1072.0 327.5C1073.7 326.0 1076.9 324.2 1078.8 324.2C1080.6 324.2 1082.1 325.8 1083.3 327.5C1084.4 329.2 1085.7 332.2 1085.5 334.3C1085.3 336.3 1084.2 339.0 1082.1 339.9C1080.1 340.8 1075.4 341.0 1073.2 339.9C1070.9 338.8 1068.8 335.2 1068.7 333.1Z" fill="#f26a00" filter="url(#f2b)"/>
</g>
<path d="M1181.7 166.7L1185.4 201.6L1214.2 205.8" stroke="#111" stroke-width="1.5" fill="none"/>
<path d="M1199.5 190.8L1204.9 187.2" stroke="#111" stroke-width="1.3" fill="none"/>
<polygon points="1186.1,191.3 1193.8,192.5 1194.8,201.6 1186.5,200.8" fill="#dcdcdc"/><polygon points="1186.1,190.9 1191.5,187.0 1199.2,188.3 1193.8,192.1" fill="#8c8c8c"/><polygon points="1193.8,192.1 1199.2,188.3 1199.8,197.8 1194.8,201.6" fill="#a8a8a8"/>
<text x="1180.3" y="163.0" font-size="11" fill="#444" text-anchor="middle">Z</text>
<text x="1208.4" y="187.7" font-size="11" fill="#444" text-anchor="middle">Y</text>
<text x="1221.6" y="211.0" font-size="11" fill="#444" text-anchor="middle">X</text>
<rect x="1205.1" y="219.5" width="50.9" height="131" fill="#fff" stroke="#8a8a8a" stroke-width="1"/>
<rect x="1209.7" y="238" width="14.2" height="5.7" fill="#f00000"/>
<rect x="1209.7" y="243.5" width="14.2" height="11.8" fill="#ff6000"/>
<rect x="1209.7" y="255.1" width="14.2" height="11.8" fill="#ffe000"/>
<rect x="1209.7" y="266.7" width="14.2" height="11.8" fill="#a0f000"/>
<rect x="1209.7" y="278.3" width="14.2" height="11.8" fill="#30e000"/>
<rect x="1209.7" y="289.9" width="14.2" height="11.8" fill="#00e828"/>
<rect x="1209.7" y="301.5" width="14.2" height="11.8" fill="#00f0a0"/>
<rect x="1209.7" y="313.1" width="14.2" height="11.8" fill="#00e0f8"/>
<rect x="1209.7" y="324.7" width="14.2" height="11.8" fill="#0070ff"/>
<rect x="1209.7" y="336.3" width="14.2" height="6.5" fill="#0000e0"/>
<path d="M1209.7 243.5h14.2M1209.7 255.1h14.2M1209.7 266.7h14.2M1209.7 278.3h14.2M1209.7 289.9h14.2M1209.7 301.5h14.2M1209.7 313.1h14.2M1209.7 324.7h14.2M1209.7 336.3h14.2" stroke="#000" stroke-width="0.8" opacity=".55" fill="none"/>
<text x="1213.2" y="234.3" font-size="11.2" fill="#4a4a4a" textLength="37" lengthAdjust="spacingAndGlyphs">TEMPRT</text>
<text x="1230.5" y="249.5" font-size="11" fill="#4a4a4a" textLength="20.8" lengthAdjust="spacingAndGlyphs">4000</text>
<text x="1230.5" y="261.1" font-size="11" fill="#4a4a4a" textLength="20.8" lengthAdjust="spacingAndGlyphs">3650</text>
<text x="1230.5" y="272.6" font-size="11" fill="#4a4a4a" textLength="20.8" lengthAdjust="spacingAndGlyphs">3133</text>
<text x="1230.5" y="284.2" font-size="11" fill="#4a4a4a" textLength="20.8" lengthAdjust="spacingAndGlyphs">2500</text>
<text x="1230.5" y="295.7" font-size="11" fill="#4a4a4a" textLength="20.8" lengthAdjust="spacingAndGlyphs">2000</text>
<text x="1230.5" y="307.3" font-size="11" fill="#4a4a4a" textLength="20.8" lengthAdjust="spacingAndGlyphs">1809</text>
<text x="1230.5" y="318.9" font-size="11" fill="#4a4a4a" textLength="20.8" lengthAdjust="spacingAndGlyphs">1500</text>
<text x="1230.5" y="330.4" font-size="11" fill="#4a4a4a" textLength="20.8" lengthAdjust="spacingAndGlyphs">1000</text>
<text x="1230.5" y="342.0" font-size="11" fill="#4a4a4a" textLength="15.6" lengthAdjust="spacingAndGlyphs">400</text>
<g font-size="8" fill="#333">
<text x="937.2" y="241.6" textLength="19.7" lengthAdjust="spacingAndGlyphs">0.0004</text>
<text x="938.1" y="261.3" textLength="19.7" lengthAdjust="spacingAndGlyphs">0.0002</text>
<text x="958.6" y="281.9" textLength="3.5" lengthAdjust="spacingAndGlyphs">0</text>
<text x="942.5" y="302.5" textLength="22.1" lengthAdjust="spacingAndGlyphs">-0.0002</text>
<text x="945.2" y="322.5" textLength="22.1" lengthAdjust="spacingAndGlyphs">-0.0004</text>
<text x="947.4" y="343.1" textLength="22.1" lengthAdjust="spacingAndGlyphs">-0.0006</text>
<text x="950.8" y="363.1" textLength="22.1" lengthAdjust="spacingAndGlyphs">-0.0008</text>
<text x="993.1" y="383.3" textLength="22.1" lengthAdjust="spacingAndGlyphs">-0.0005</text>
<text x="1045.9" y="389.6" textLength="3.5" lengthAdjust="spacingAndGlyphs">0</text>
<text x="1081.2" y="395.7" textLength="19.7" lengthAdjust="spacingAndGlyphs">0.0005</text>
<text x="1125.9" y="401.8" textLength="16.1" lengthAdjust="spacingAndGlyphs">0.001</text>
<text x="1161.7" y="400.9" textLength="3.5" lengthAdjust="spacingAndGlyphs">0</text>
<text x="1172.8" y="392.3" textLength="19.7" lengthAdjust="spacingAndGlyphs">0.0002</text>
<text x="1184.5" y="384.0" textLength="19.7" lengthAdjust="spacingAndGlyphs">0.0004</text>
<text x="1196.3" y="375.7" textLength="19.7" lengthAdjust="spacingAndGlyphs">0.0006</text>
</g>
<text x="1056.7" y="397.3" font-size="9" font-weight="bold" font-style="italic" fill="#111" text-anchor="middle" transform="rotate(8 1056.7 394.3)">X</text>
<text x="956.1" y="312.4" font-size="9" font-weight="bold" fill="#111" text-anchor="middle" transform="rotate(-80 956.1 309.4)">Z</text>
<text x="1197.9" y="387.2" font-size="9" font-weight="bold" fill="#111" text-anchor="middle" transform="rotate(-40 1197.9 384.2)">Y</text>
</g>
</g>
<g id="fig4">
<defs><filter id="f4b" x="-5%" y="-5%" width="110%" height="110%"><feGaussianBlur stdDeviation="0.5"/></filter></defs>
<g filter="url(#f4b)">
<path d="M206.2 569.3V736.4M282.6 569.3V736.4M359.1 569.3V736.4M129.4 599.5H389.7M129.4 628.7H389.7M129.4 657.8H389.7M129.4 687.2H389.7M129.4 716.3H389.7" stroke="#1c1c1c" stroke-width="0.95" fill="none"/>
<path d="M129.4 569.3h3.3M129.4 575.1h3.3M129.4 581.0h3.3M129.4 586.8h3.3M129.4 592.6h3.3M129.4 598.4h3.3M129.4 604.3h3.3M129.4 610.1h3.3M129.4 615.9h3.3M129.4 621.8h3.3M129.4 627.6h3.3M129.4 633.4h3.3M129.4 639.3h3.3M129.4 645.1h3.3M129.4 650.9h3.3M129.4 656.8h3.3M129.4 662.6h3.3M129.4 668.4h3.3M129.4 674.2h3.3M129.4 680.1h3.3M129.4 685.9h3.3M129.4 691.7h3.3M129.4 697.6h3.3M129.4 703.4h3.3M129.4 709.2h3.3M129.4 715.0h3.3M129.4 720.9h3.3M129.4 726.7h3.3M129.4 732.5h3.3M128.5 736.4v-2.6M143.8 736.4v-2.6M159.1 736.4v-2.6M174.4 736.4v-2.6M189.7 736.4v-2.6M205.0 736.4v-2.6M220.3 736.4v-2.6M235.6 736.4v-2.6M250.9 736.4v-2.6M266.2 736.4v-2.6M281.5 736.4v-2.6M296.8 736.4v-2.6M312.1 736.4v-2.6M327.4 736.4v-2.6M342.7 736.4v-2.6M358.0 736.4v-2.6M373.3 736.4v-2.6" stroke="#111" stroke-width="0.75" fill="none"/>
<path d="M129.4 599.5h5.3M129.4 628.7h5.3M129.4 657.8h5.3M129.4 687.2h5.3M129.4 716.3h5.3M206.2 736.4v-4.6M282.6 736.4v-4.6M359.1 736.4v-4.6" stroke="#000" stroke-width="1.8" fill="none"/>
<path d="M130.2 546.0l3.6 -0.4M134.9 546.0l3.6 -0.4M139.6 546.0l3.6 -0.4M144.3 546.0l3.6 -0.4M149.0 545.9l3.6 -0.4M153.7 545.9l3.6 -0.5M158.4 545.8l3.6 -0.5M163.1 545.7l3.6 -0.5M167.8 545.6l3.5 -0.6M172.5 545.4l3.5 -0.7M177.2 545.3l3.5 -0.7M181.9 545.1l3.5 -0.8M186.7 544.8l3.5 -0.9M191.4 544.5l3.5 -1.0M196.1 544.2l3.4 -1.1M200.8 543.9l3.4 -1.2M205.5 543.5l3.4 -1.3M210.2 543.1l3.3 -1.4M215.0 542.6l3.3 -1.5M219.7 542.1l3.2 -1.6M224.4 541.6l3.2 -1.7" stroke="#5a1010" stroke-width="1.5" opacity="0.9" fill="none"/>
<path d="M262.9 546.1l1.3 -3.5M267.6 546.2l1.3 -3.5M272.3 546.3l1.4 -3.4M277.0 546.5l1.4 -3.3" stroke="#3e0e0e" stroke-width="1.0" opacity="1.0" fill="none"/>
<path d="M281.7 546.6l1.4 -3.2M286.4 546.7l1.5 -3.2M291.1 546.8l1.5 -3.1M295.7 546.9l1.5 -3.0M300.4 547.0l1.5 -2.9M305.1 547.1l1.6 -2.8" stroke="#3e0e0e" stroke-width="1.0" opacity="0.9" fill="none"/>
<path d="M309.8 547.2l1.6 -2.8M314.5 547.3l1.6 -2.7M319.2 547.4l1.6 -2.6M323.9 547.5l1.6 -2.5M328.6 547.7l1.6 -2.5M333.3 547.8l1.6 -2.4M338.0 547.9l1.6 -2.3" stroke="#3e0e0e" stroke-width="1.0" opacity="0.8" fill="none"/>
<path d="M342.7 548.0l1.6 -2.2M347.4 548.1l1.6 -2.2M352.1 548.2l1.6 -2.1M356.8 548.3l1.6 -2.0M361.5 548.4l1.6 -2.0M366.2 548.5l1.6 -1.9M370.9 548.7l1.6 -1.8" stroke="#3e0e0e" stroke-width="1.0" opacity="0.7" fill="none"/>
<path d="M375.6 548.8l1.6 -1.7M380.3 548.9l1.6 -1.7M385.0 549.0l1.6 -1.6" stroke="#3e0e0e" stroke-width="1.0" opacity="0.6" fill="none"/>
<path d="M130.7 551.4l2.6 -0.1M135.4 551.3l2.6 -0.2M140.1 551.3l2.6 -0.2M144.8 551.2l2.6 -0.2M148.6 551.2l4.4 -0.4M153.3 551.2l4.4 -0.5M158.0 551.1l4.4 -0.5M162.7 551.1l4.4 -0.6M167.4 551.0l4.4 -0.6M172.1 551.0l4.3 -0.7M176.8 550.9l4.3 -0.7M181.5 550.9l4.3 -0.8M186.2 550.9l4.3 -0.9M190.9 550.8l4.3 -0.9M195.7 550.8l4.3 -1.0M200.4 550.7l4.3 -1.0M205.1 550.7l4.3 -1.1M209.8 550.6l4.3 -1.1M214.5 550.6l4.2 -1.2M219.2 550.5l4.2 -1.2M223.9 550.5l4.2 -1.3M130.7 555.9l2.6 -0.1M135.4 555.8l2.6 -0.2M140.1 555.8l2.6 -0.2M144.8 555.7l2.6 -0.2M148.6 555.7l4.4 -0.4M153.3 555.7l4.4 -0.5M158.0 555.6l4.4 -0.5M162.7 555.6l4.4 -0.6M167.4 555.5l4.4 -0.6M172.1 555.5l4.3 -0.7M176.8 555.4l4.3 -0.7M181.5 555.4l4.3 -0.8M186.2 555.4l4.3 -0.9M190.9 555.3l4.3 -0.9M195.7 555.3l4.3 -1.0M200.4 555.2l4.3 -1.0M205.1 555.2l4.3 -1.1M209.8 555.1l4.3 -1.1M214.5 555.1l4.2 -1.2M219.2 555.0l4.2 -1.2M223.9 555.0l4.2 -1.3M130.7 560.3l2.6 -0.1M135.4 560.2l2.6 -0.2M140.1 560.2l2.6 -0.2M144.8 560.1l2.6 -0.2M148.6 560.1l4.4 -0.4M153.3 560.1l4.4 -0.5M158.0 560.0l4.4 -0.5M162.7 560.0l4.4 -0.6M167.4 559.9l4.4 -0.6M172.1 559.9l4.3 -0.7M176.8 559.8l4.3 -0.7M181.5 559.8l4.3 -0.8M186.2 559.8l4.3 -0.9M190.9 559.7l4.3 -0.9M195.7 559.7l4.3 -1.0M200.4 559.6l4.3 -1.0M205.1 559.6l4.3 -1.1M209.8 559.5l4.3 -1.1M214.5 559.5l4.2 -1.2M219.2 559.4l4.2 -1.2M223.9 559.4l4.2 -1.3M130.7 564.8l2.6 -0.1M135.4 564.7l2.6 -0.2M140.1 564.7l2.6 -0.2M144.8 564.6l2.6 -0.2M148.6 564.6l4.4 -0.4M153.3 564.6l4.4 -0.5M158.0 564.5l4.4 -0.5M162.7 564.5l4.4 -0.6M167.4 564.4l4.4 -0.6M172.1 564.4l4.3 -0.7M176.8 564.3l4.3 -0.7M181.5 564.3l4.3 -0.8M186.2 564.3l4.3 -0.9M190.9 564.2l4.3 -0.9M195.7 564.2l4.3 -1.0M200.4 564.1l4.3 -1.0M205.1 564.1l4.3 -1.1M209.8 564.0l4.3 -1.1M214.5 564.0l4.2 -1.2M219.2 563.9l4.2 -1.2M223.9 563.9l4.2 -1.3M295.9 574.2l1.2 -1.4M300.6 574.2l1.2 -1.3M305.3 574.1l1.3 -1.3M309.9 574.1l1.3 -1.2M314.6 574.1l1.3 -1.2M319.3 574.1l1.4 -1.1M324.0 574.0l1.4 -1.1M328.7 574.0l1.5 -1.0M333.3 574.0l1.5 -1.0M338.0 574.0l1.5 -0.9M342.7 573.9l1.6 -0.9M347.4 573.9l1.6 -0.8M352.1 573.9l1.6 -0.8M356.8 573.9l1.7 -0.7M361.5 573.8l1.7 -0.7M366.1 573.8l1.7 -0.6M256.0 543.4l5.8 7.2M261.3 544.3l4.7 5.5M256.1 548.1l5.7 6.8M260.9 548.8l5.4 5.3M266.1 549.2l4.3 4.5M251.0 552.3l6.4 7.1M255.8 552.9l6.3 6.0M261.2 552.9l4.9 6.0M265.9 553.5l4.8 4.8M255.8 557.2l6.2 6.4M260.7 557.5l5.7 5.8M265.7 557.8l5.3 5.0M270.7 558.1l4.6 4.4M255.8 561.4l6.1 6.8M260.7 561.8l5.9 6.1M265.7 562.0l5.3 5.6M270.8 562.1l4.4 5.4M275.6 562.6l4.2 4.5M260.4 570.6l6.4 6.3M265.3 570.8l5.9 5.8M270.6 570.8l4.9 5.8M275.5 571.1l4.5 5.2M280.2 571.5l4.3 4.3M260.6 574.6l5.9 7.2M265.2 575.1l6.1 6.0M270.5 575.1l5.0 6.1M275.4 575.4l4.6 5.5M280.3 575.8l4.2 4.7M265.5 579.1l5.7 6.9M270.1 579.7l5.8 5.8M275.3 579.8l4.9 5.6M280.1 580.3l4.6 4.6M265.0 583.8l6.7 6.6M270.2 583.8l5.6 6.4M274.9 584.4l5.6 5.3M280.0 584.6l4.8 4.8M285.1 584.9l4.0 4.3M269.8 588.3l6.3 6.4M275.1 588.4l5.2 6.2M279.9 589.0l5.1 5.0M284.9 589.4l4.5 4.2M269.7 592.8l6.7 6.3M274.7 593.0l5.9 5.8M279.8 593.3l5.1 5.3M285.0 593.6l4.3 4.7M223.6 602.3l4.8 -3.8M228.1 602.6l5.3 -4.3M232.7 603.0l5.4 -5.2M237.2 603.3l5.8 -5.8M269.5 597.2l6.9 6.5M275.0 597.1l5.4 6.6M279.9 597.6l5.0 5.7M285.0 597.9l4.1 5.0M223.6 606.6l4.9 -3.4M228.3 607.2l4.8 -4.7M232.5 607.2l5.7 -4.7M236.9 607.3l6.4 -5.0M274.9 601.5l5.6 6.7M279.9 602.0l5.1 5.8M284.9 602.4l4.4 4.9M223.6 611.0l4.7 -3.4M228.0 611.3l5.3 -3.9M232.6 611.7l5.6 -4.8M236.9 611.7l6.4 -4.9M274.8 605.9l5.8 6.9M279.7 606.4l5.3 5.8M284.9 606.8l4.5 5.0M223.8 615.5l4.5 -3.6M228.0 615.6l5.3 -3.7M232.5 615.9l5.9 -4.3M236.9 616.2l6.3 -4.9M274.6 610.5l6.2 6.5M279.8 610.8l5.2 5.9M284.9 611.3l4.5 4.9M224.1 620.1l3.9 -3.9M228.2 620.2l4.9 -4.0M232.7 620.5l5.5 -4.6M237.2 620.9l5.8 -5.4M274.8 614.9l5.9 6.7M279.8 615.4l5.3 5.7M284.9 615.8l4.4 4.9M228.3 624.5l4.8 -3.8M232.8 625.0l5.1 -4.8M237.2 625.3l5.7 -5.4M241.3 625.2l7.0 -5.1M274.8 619.4l5.8 6.6M279.8 619.9l5.2 5.5M285.1 620.2l4.1 4.9M228.5 629.0l4.4 -3.8M232.7 629.1l5.4 -4.1M237.0 629.4l6.3 -4.5M241.3 629.6l7.0 -5.1M274.7 624.0l6.0 6.2M279.9 624.3l5.0 5.5M285.0 624.9l4.3 4.4M232.8 633.5l5.2 -3.9M237.1 633.9l6.0 -4.6M241.3 634.0l7.0 -5.0M269.6 628.2l6.7 6.8M274.7 628.6l6.0 5.9M280.0 629.0l4.9 5.2M233.1 637.9l4.7 -3.8M237.3 638.3l5.6 -4.7M241.7 638.8l6.3 -5.6M270.0 632.5l6.0 7.0M275.2 632.9l5.1 6.2M280.1 633.5l4.6 4.9M237.4 642.6l5.4 -4.2M241.6 643.1l6.4 -5.3M269.9 637.3l6.2 6.3M275.2 637.5l5.0 5.8M280.1 638.3l4.7 4.4M237.9 647.1l4.4 -4.4M241.6 647.3l6.5 -4.8M270.0 641.9l6.0 6.0M275.1 642.4l5.2 5.0M241.9 651.6l5.7 -4.6M265.2 645.9l6.2 7.0M270.4 646.3l5.2 6.1M275.6 646.8l4.2 5.1M265.1 650.7l6.3 6.2M270.6 651.2l4.8 5.2M265.5 655.6l5.7 5.3" stroke="#3e0e0e" stroke-width="0.8" opacity="0.9" fill="none"/>
<path d="M262.8 551.7l1.5 -2.8M267.5 551.8l1.5 -2.7M272.2 551.8l1.5 -2.6M276.9 551.8l1.6 -2.6M262.8 556.2l1.5 -2.8M267.5 556.3l1.5 -2.7M272.2 556.3l1.5 -2.6M276.9 556.3l1.6 -2.6M262.8 560.6l1.5 -2.8M267.5 560.7l1.5 -2.7M272.2 560.7l1.5 -2.6M276.9 560.7l1.6 -2.6M262.8 565.1l1.5 -2.8M267.5 565.2l1.5 -2.7M272.2 565.2l1.5 -2.6M276.9 565.2l1.6 -2.6" stroke="#3e0e0e" stroke-width="0.7" opacity="1.0" fill="none"/>
<path d="M281.6 551.9l1.6 -2.5M286.3 551.9l1.6 -2.4M291.0 551.9l1.6 -2.3M295.7 552.0l1.6 -2.3M300.4 552.0l1.6 -2.2M305.1 552.1l1.6 -2.1M281.6 556.4l1.6 -2.5M286.3 556.4l1.6 -2.4M291.0 556.4l1.6 -2.3M295.7 556.5l1.6 -2.3M300.4 556.5l1.6 -2.2M305.1 556.6l1.6 -2.1M281.6 560.8l1.6 -2.5M286.3 560.8l1.6 -2.4M291.0 560.8l1.6 -2.3M295.7 560.9l1.6 -2.3M300.4 560.9l1.6 -2.2M305.1 561.0l1.6 -2.1M281.6 565.3l1.6 -2.5M286.3 565.3l1.6 -2.4M291.0 565.3l1.6 -2.3M295.7 565.4l1.6 -2.3M300.4 565.4l1.6 -2.2M305.1 565.5l1.6 -2.1" stroke="#3e0e0e" stroke-width="0.7" opacity="0.9" fill="none"/>
<path d="M309.8 552.1l1.6 -2.1M314.5 552.1l1.6 -2.0M319.2 552.2l1.6 -1.9M323.9 552.2l1.6 -1.8M328.6 552.2l1.6 -1.8M333.3 552.3l1.5 -1.7M338.0 552.3l1.5 -1.6M309.8 556.6l1.6 -2.1M314.5 556.6l1.6 -2.0M319.2 556.7l1.6 -1.9M323.9 556.7l1.6 -1.8M328.6 556.7l1.6 -1.8M333.3 556.8l1.5 -1.7M338.0 556.8l1.5 -1.6M309.8 561.0l1.6 -2.1M314.5 561.0l1.6 -2.0M319.2 561.1l1.6 -1.9M323.9 561.1l1.6 -1.8M328.6 561.1l1.6 -1.8M333.3 561.2l1.5 -1.7M338.0 561.2l1.5 -1.6M309.8 565.5l1.6 -2.1M314.5 565.5l1.6 -2.0M319.2 565.6l1.6 -1.9M323.9 565.6l1.6 -1.8M328.6 565.6l1.6 -1.8M333.3 565.7l1.5 -1.7M338.0 565.7l1.5 -1.6" stroke="#3e0e0e" stroke-width="0.7" opacity="0.8" fill="none"/>
<path d="M342.7 552.4l1.5 -1.6M347.5 552.4l1.5 -1.5M352.2 552.4l1.5 -1.4M356.9 552.5l1.5 -1.4M361.6 552.5l1.4 -1.3M366.3 552.6l1.4 -1.2M371.0 552.6l1.4 -1.2M342.7 556.9l1.5 -1.6M347.5 556.9l1.5 -1.5M352.2 556.9l1.5 -1.4M356.9 557.0l1.5 -1.4M361.6 557.0l1.4 -1.3M366.3 557.1l1.4 -1.2M371.0 557.1l1.4 -1.2M342.7 561.3l1.5 -1.6M347.5 561.3l1.5 -1.5M352.2 561.3l1.5 -1.4M356.9 561.4l1.5 -1.4M361.6 561.4l1.4 -1.3M366.3 561.5l1.4 -1.2M371.0 561.5l1.4 -1.2M342.7 565.8l1.5 -1.6M347.5 565.8l1.5 -1.5M352.2 565.8l1.5 -1.4M356.9 565.9l1.5 -1.4M361.6 565.9l1.4 -1.3M366.3 566.0l1.4 -1.2M371.0 566.0l1.4 -1.2" stroke="#3e0e0e" stroke-width="0.7" opacity="0.7" fill="none"/>
<path d="M375.7 552.7l1.4 -1.1M380.4 552.7l1.3 -1.1M385.2 552.8l1.3 -1.0M375.7 557.2l1.4 -1.1M380.4 557.2l1.3 -1.1M385.2 557.3l1.3 -1.0M375.7 561.6l1.4 -1.1M380.4 561.6l1.3 -1.1M385.2 561.7l1.3 -1.0M375.7 566.1l1.4 -1.1M380.4 566.1l1.3 -1.1M385.2 566.2l1.3 -1.0" stroke="#3e0e0e" stroke-width="0.7" opacity="0.6" fill="none"/>
<path d="M130.2 551.5l0.5 -3.0M130.2 556.0l0.5 -3.0M130.2 560.5l0.5 -3.0M130.2 565.0l0.5 -3.0M130.2 568.5l0.5 -3.0M295.9 587.5l1.2 -1.4M300.6 587.5l1.2 -1.3M305.3 587.5l1.3 -1.3M309.9 587.5l1.3 -1.2M314.6 587.4l1.3 -1.2M319.3 587.4l1.4 -1.1M324.0 587.4l1.4 -1.1M328.7 587.4l1.5 -1.0M333.3 587.3l1.5 -1.0M338.0 587.3l1.5 -0.9M342.7 587.3l1.6 -0.9M347.4 587.3l1.6 -0.8M352.1 587.2l1.6 -0.8M356.8 587.2l1.7 -0.7M361.5 587.2l1.7 -0.7M366.1 587.1l1.7 -0.6" stroke="#3e0e0e" stroke-width="0.8" opacity="0.6" fill="none"/>
<path d="M229.6 540.3l0.8 7.6M234.2 537.3l0.8 7.6M238.8 536.6l0.8 7.6M243.4 536.8l0.8 7.6M248.0 537.4l0.8 7.6M252.6 538.4l0.8 7.6M257.2 539.8l0.8 7.6M261.8 541.8l0.8 7.6" stroke="#981010" stroke-width="1.9" opacity="0.95" fill="none"/>
<path d="M136.2 574.1l3.6 -0.3M140.9 574.1l3.6 -0.3M145.6 574.1l3.6 -0.3M150.3 574.1l3.6 -0.3M155.0 574.1l3.6 -0.3M159.7 574.1l3.6 -0.3M164.4 574.1l3.6 -0.3M169.1 574.1l3.6 -0.3M173.8 574.1l3.6 -0.3M178.5 574.1l3.6 -0.3M183.2 574.1l3.6 -0.3M187.9 574.1l3.6 -0.3M192.6 574.1l3.6 -0.3M197.3 574.1l3.6 -0.3M202.0 574.1l3.6 -0.3M206.7 574.1l3.6 -0.3M211.4 574.1l3.6 -0.3M216.1 574.1l3.6 -0.3" stroke="#3e0e0e" stroke-width="0.75" opacity="0.85" fill="none"/>
<path d="M136.5 578.5l3.1 -0.2M141.2 578.5l3.1 -0.2M145.9 578.5l3.1 -0.2M150.6 578.5l3.1 -0.2M155.3 578.5l3.1 -0.2M160.0 578.5l3.1 -0.2M164.7 578.5l3.1 -0.2M169.4 578.5l3.1 -0.2M174.1 578.5l3.1 -0.2M178.8 578.5l3.1 -0.2M183.5 578.5l3.1 -0.2M188.2 578.5l3.1 -0.2M192.9 578.5l3.1 -0.2M197.6 578.5l3.1 -0.2M202.3 578.5l3.1 -0.2M207.0 578.5l3.1 -0.2M211.7 578.5l3.1 -0.2M216.4 578.5l3.1 -0.2" stroke="#3e0e0e" stroke-width="0.75" opacity="0.7" fill="none"/>
<path d="M136.7 582.9l2.6 -0.2M141.4 582.9l2.6 -0.2M146.1 582.9l2.6 -0.2M150.8 582.9l2.6 -0.2M155.5 582.9l2.6 -0.2M160.2 582.9l2.6 -0.2M164.9 582.9l2.6 -0.2M169.6 582.9l2.6 -0.2M174.3 582.9l2.6 -0.2M179.0 582.9l2.6 -0.2M183.7 582.9l2.6 -0.2M188.4 582.9l2.6 -0.2M193.1 582.9l2.6 -0.2M197.8 582.9l2.6 -0.2M202.5 582.9l2.6 -0.2M207.2 582.9l2.6 -0.2M211.9 582.9l2.6 -0.2M216.6 582.9l2.6 -0.2" stroke="#3e0e0e" stroke-width="0.75" opacity="0.55" fill="none"/>
<path d="M201.1 594.7l1.2 0.0M218.6 593.6l1.2 0.0M203.2 595.0l1.2 0.0M191.2 594.1l1.2 0.0M207.7 597.5l1.2 0.0M187.9 591.6l1.2 0.0M187.8 597.7l1.2 0.0M210.1 588.5l1.2 0.0M220.7 599.6l1.2 0.0M208.6 595.4l1.2 0.0M190.2 588.2l1.2 0.0M204.0 588.7l1.2 0.0M191.4 590.9l1.2 0.0M185.5 593.6l1.2 0.0" stroke="#6a3a3a" stroke-width="0.8" opacity="0.4" fill="none"/>
<path d="M369.9 573.4l3.6 0.2M374.6 573.4l3.6 0.2M379.3 573.4l3.6 0.2M384.0 573.4l3.6 0.2M369.9 577.9l3.6 0.2M374.6 577.9l3.6 0.2M379.3 577.9l3.6 0.2M384.0 577.9l3.6 0.2" stroke="#3e0e0e" stroke-width="0.9" opacity="0.6" fill="none"/>
<path d="M295.9 578.6l1.2 -1.4M300.6 578.6l1.2 -1.3M305.3 578.6l1.3 -1.3M309.9 578.6l1.3 -1.2M314.6 578.5l1.3 -1.2M319.3 578.5l1.4 -1.1M324.0 578.5l1.4 -1.1M328.7 578.5l1.5 -1.0M333.3 578.4l1.5 -1.0M338.0 578.4l1.5 -0.9M342.7 578.4l1.6 -0.9M347.4 578.4l1.6 -0.8M352.1 578.3l1.6 -0.8M356.8 578.3l1.7 -0.7M361.5 578.3l1.7 -0.7M366.1 578.2l1.7 -0.6" stroke="#3e0e0e" stroke-width="0.8" opacity="0.8" fill="none"/>
<path d="M295.9 583.1l1.2 -1.4M300.6 583.1l1.2 -1.3M305.3 583.0l1.3 -1.3M309.9 583.0l1.3 -1.2M314.6 583.0l1.3 -1.2M319.3 583.0l1.4 -1.1M324.0 582.9l1.4 -1.1M328.7 582.9l1.5 -1.0M333.3 582.9l1.5 -1.0M338.0 582.9l1.5 -0.9M342.7 582.8l1.6 -0.9M347.4 582.8l1.6 -0.8M352.1 582.8l1.6 -0.8M356.8 582.8l1.7 -0.7M361.5 582.7l1.7 -0.7M366.1 582.7l1.7 -0.6M266.6 545.3l3.4 3.4M271.5 549.7l3.0 3.6M271.0 553.9l4.1 4.1M276.2 554.2l3.0 3.5M275.9 558.3l3.7 4.0M280.8 558.8l3.1 3.1M280.6 562.9l3.5 3.9M285.7 563.2l2.7 3.3M216.1 574.7l1.1 -1.9M220.8 574.7l1.1 -1.9M225.4 574.7l1.1 -1.9M230.1 574.7l1.1 -1.9M234.8 574.7l1.1 -1.9M285.2 571.8l3.8 3.7M290.4 572.0l2.9 3.3M216.1 579.1l1.1 -1.9M220.8 579.1l1.1 -1.9M225.4 579.1l1.1 -1.9M230.1 579.1l1.1 -1.9M234.8 579.1l1.1 -1.9M239.6 579.1l1.1 -1.9M285.2 576.2l3.8 4.0M290.2 576.6l3.3 3.1M295.3 577.0l2.4 2.3M216.1 583.6l1.1 -1.9M220.8 583.6l1.1 -1.9M225.4 583.6l1.1 -1.9M230.1 583.6l1.1 -1.9M234.8 583.6l1.1 -1.9M239.6 583.6l1.1 -1.9M285.3 580.4l3.7 4.3M290.2 580.9l3.1 3.5M295.3 581.4l2.4 2.4M216.1 588.0l1.1 -1.9M220.8 588.0l1.1 -1.9M225.4 588.0l1.1 -1.9M230.1 588.0l1.1 -1.9M234.8 588.0l1.1 -1.9M239.6 588.0l1.1 -1.9M290.2 585.2l3.1 3.7M295.3 585.7l2.4 2.7M211.3 592.5l1.1 -1.9M216.1 592.5l1.1 -1.9M220.8 592.5l1.1 -1.9M225.4 592.5l1.1 -1.9M230.1 592.5l1.1 -1.9M234.8 592.5l1.1 -1.9M239.6 592.5l1.1 -1.9M290.0 589.7l3.6 3.6M295.2 590.1l2.6 2.7M211.3 596.9l1.1 -1.9M216.1 596.9l1.1 -1.9M220.8 596.9l1.1 -1.9M225.4 596.9l1.1 -1.9M230.1 596.9l1.1 -1.9M234.8 596.9l1.1 -1.9M239.6 596.9l1.1 -1.9M289.9 594.1l3.7 3.6M295.1 594.6l2.7 2.8M210.5 601.4l2.8 -2.0M214.8 601.7l3.6 -2.6M219.2 602.0l4.2 -3.3M289.9 598.6l3.9 3.7M295.2 598.9l2.7 3.0M210.7 605.9l2.4 -2.0M214.9 606.2l3.4 -2.6M219.4 606.6l3.8 -3.4M290.1 602.8l3.5 4.1M295.2 603.3l2.5 3.0M215.1 610.6l3.0 -2.7M219.3 610.8l3.9 -3.1M289.9 607.4l3.7 3.9M295.2 607.9l2.6 2.8M215.1 615.0l3.0 -2.4M219.6 615.4l3.5 -3.4M290.0 611.8l3.7 3.9M295.3 612.3l2.4 2.8M215.4 619.4l2.4 -2.3M219.5 619.6l3.6 -2.8M290.1 616.2l3.3 4.0M295.2 616.9l2.5 2.5M219.9 624.1l2.9 -2.9M224.1 624.4l3.8 -3.4M290.1 620.9l3.5 3.6M220.0 628.1l2.7 -2.1M224.3 628.7l3.5 -3.2M290.1 625.5l3.3 3.2M224.4 632.9l3.1 -2.6M228.5 633.2l4.3 -3.2M285.1 629.5l4.1 4.1M290.3 630.1l3.0 2.9M229.0 637.5l3.5 -3.0M285.2 634.1l3.9 3.7M290.5 634.7l2.7 2.5M229.4 641.4l2.6 -1.9M233.5 642.3l3.8 -3.7M285.3 638.7l3.5 3.4M233.9 646.2l3.1 -2.6M280.3 642.9l4.2 4.0M285.7 643.4l2.7 3.0M238.5 650.7l3.2 -2.7M280.7 647.5l3.3 3.8M275.9 652.0l3.6 3.5M271.4 656.6l3.2 3.4" stroke="#3e0e0e" stroke-width="0.8" opacity="0.7" fill="none"/>
<path d="M369.9 582.3l3.6 0.2M374.6 582.3l3.6 0.2M379.3 582.3l3.6 0.2M384.0 582.3l3.6 0.2M369.9 586.8l3.6 0.2M374.6 586.8l3.6 0.2M379.3 586.8l3.6 0.2M384.0 586.8l3.6 0.2M369.9 591.2l3.6 0.2M374.6 591.2l3.6 0.2M379.3 591.2l3.6 0.2M384.0 591.2l3.6 0.2M369.9 595.7l3.6 0.2M374.6 595.7l3.6 0.2M379.3 595.7l3.6 0.2M384.0 595.7l3.6 0.2M369.9 600.1l3.6 0.2M379.3 600.1l3.6 0.2" stroke="#3e0e0e" stroke-width="0.9" opacity="0.9" fill="none"/>
<path d="M295.9 592.0l1.2 -1.4M300.6 592.0l1.2 -1.3M305.3 591.9l1.3 -1.3M309.9 591.9l1.3 -1.2M314.6 591.9l1.3 -1.2M319.3 591.9l1.4 -1.1M324.0 591.8l1.4 -1.1M328.7 591.8l1.5 -1.0M333.3 591.8l1.5 -1.0M338.0 591.8l1.5 -0.9M342.7 591.7l1.6 -0.9M347.4 591.7l1.6 -0.8M352.1 591.7l1.6 -0.8M356.8 591.7l1.7 -0.7M361.5 591.6l1.7 -0.7M366.1 591.6l1.7 -0.6" stroke="#3e0e0e" stroke-width="0.8" opacity="0.5" fill="none"/>
<path d="M295.9 596.4l1.2 -1.4M300.6 596.4l1.2 -1.3M305.3 596.4l1.3 -1.3M309.9 596.4l1.3 -1.2M314.6 596.3l1.3 -1.2M319.3 596.3l1.4 -1.1M324.0 596.3l1.4 -1.1M328.7 596.3l1.5 -1.0M333.3 596.2l1.5 -1.0M338.0 596.2l1.5 -0.9M342.7 596.2l1.6 -0.9M347.4 596.2l1.6 -0.8M352.1 596.1l1.6 -0.8M356.8 596.1l1.7 -0.7M361.5 596.1l1.7 -0.7M366.1 596.0l1.7 -0.6M300.6 600.9l1.2 -1.3M305.3 600.8l1.3 -1.3M309.9 600.8l1.3 -1.2M319.3 600.8l1.4 -1.1M333.3 600.7l1.5 -1.0M338.0 600.7l1.5 -0.9M342.7 600.6l1.6 -0.9M347.4 600.6l1.6 -0.8" stroke="#3e0e0e" stroke-width="0.8" opacity="0.4" fill="none"/>
<path d="M332.9 615.3l1.2 0.0M299.4 603.8l1.2 0.0M331.3 608.5l1.2 0.0M333.7 607.2l1.2 0.0M302.0 611.3l1.2 0.0M326.6 604.9l1.2 0.0M302.5 606.0l1.2 0.0M333.1 613.6l1.2 0.0M303.5 604.4l1.2 0.0M302.9 601.1l1.2 0.0M327.3 603.2l1.2 0.0M319.0 608.1l1.2 0.0M306.1 613.2l1.2 0.0M304.0 611.6l1.2 0.0M303.5 607.6l1.2 0.0M306.9 604.9l1.2 0.0" stroke="#6a3a3a" stroke-width="0.8" opacity="0.3" fill="none"/>
<path d="M247.3 626.3l1.2 6.3M240.1 549.2l2.4 7.7M247.6 635.8l1.5 8.0M235.7 556.1l1.4 7.8M246.5 566.1l2.7 7.5M258.1 603.1l2.6 6.7M254.9 656.4l2.7 7.7M247.3 572.4l2.1 6.4M246.2 628.5l1.0 5.9M245.8 563.9l2.2 6.1M254.5 590.3l2.0 5.5M251.3 648.0l2.1 8.4M246.6 634.8l1.3 7.6M250.6 656.2l1.4 7.9M233.3 548.0l1.2 7.1M258.0 602.6l2.0 5.4M248.6 650.8l1.4 8.7M254.9 596.0l2.5 7.0M238.6 564.1l0.9 5.0M245.0 627.0l1.1 6.8M245.4 571.3l1.6 5.5M241.8 584.2l1.4 8.5M245.0 596.4l1.4 7.3M235.9 541.9l1.2 5.5M237.3 564.9l0.8 5.4M248.6 627.7l1.8 8.4M246.8 646.3l0.9 6.0M243.7 604.7l1.2 7.6M246.1 597.0l1.6 7.8M246.2 640.4l1.3 8.1M249.5 590.6l2.3 8.2M233.0 549.1l1.1 6.9M240.6 573.3l1.4 7.8M244.1 569.9l1.7 6.2M249.5 587.4l2.0 7.0M238.8 573.5l1.0 7.1M245.7 636.3l1.3 8.1M252.5 631.3l2.5 8.5M255.9 620.6l2.5 7.5M243.4 585.1l1.3 6.6M236.2 561.1l1.1 7.2M247.7 650.2l0.8 5.7M240.1 567.3l1.1 5.6M250.5 630.6l2.0 8.0M253.4 586.7l2.1 5.7M241.4 540.4l2.6 7.8M239.5 557.9l2.1 8.2M248.4 571.4l2.7 7.6M246.1 638.6l1.3 7.8M240.8 550.6l2.8 8.4M248.5 639.5l1.4 7.0M240.2 577.2l1.1 6.8M243.5 618.2l1.1 7.8M248.5 569.4l1.8 4.7M249.8 614.1l1.7 7.0M245.0 575.4l1.9 7.4M246.6 640.4l0.9 5.3M235.8 551.2l1.1 5.4M252.5 639.2l1.8 6.4M237.8 541.6l1.9 7.4M238.6 551.9l2.2 7.9M251.0 581.9l2.5 7.4M237.3 563.3l1.2 7.2M255.8 649.0l2.5 6.8M244.0 606.5l0.9 5.6M234.9 542.2l1.1 5.5M254.5 586.4l2.5 6.6M249.2 571.4l2.7 7.1M251.0 588.4l2.5 8.2M256.3 602.6l2.9 8.1M241.0 554.9l2.0 6.3M242.8 569.1l1.4 5.8M242.9 570.0l1.2 5.1M245.9 595.9l1.8 8.5M246.8 645.6l1.2 7.8M242.8 593.8l1.0 6.2M247.8 626.1l1.2 5.8M254.2 658.5l2.1 6.8M249.2 572.7l3.0 8.1M251.4 658.6l1.2 7.9M249.1 635.9l1.3 5.8M256.2 609.7l2.4 7.0M234.5 558.0l1.0 6.7M256.1 649.0l2.9 7.6M239.9 569.3l0.9 5.1M247.9 639.5l1.1 5.5M239.8 547.6l1.7 5.6M250.2 656.5l1.2 8.0M251.9 658.4l1.4 7.9M247.2 588.0l1.3 5.2M248.6 628.3l1.5 7.0M248.6 634.7l1.2 5.6M246.1 606.6l1.1 5.8M248.5 595.2l2.2 8.7M238.7 573.2l0.9 6.0M244.5 571.3l2.3 8.4M247.4 649.5l0.9 6.5M256.3 633.2l2.2 6.2M238.2 568.2l1.1 7.3M237.4 543.4l1.7 7.0M245.3 575.8l1.3 5.0M250.5 591.6l1.8 6.3M250.3 580.0l1.8 5.3M252.2 588.1l2.4 7.3M238.9 568.7l1.1 6.6M248.8 587.2l1.8 6.4M241.9 546.4l2.2 6.5M244.1 579.3l1.4 6.2M256.2 647.3l2.7 7.2M250.6 588.7l2.4 8.0M242.8 556.4l2.1 6.1M251.6 658.3l1.1 5.8M248.5 621.8l1.5 7.0M245.5 587.0l1.6 7.4M256.0 615.1l2.1 6.1M241.6 568.9l1.2 5.6M244.8 602.6l0.9 5.2M235.9 545.5l1.8 8.0M250.9 625.7l2.0 7.8M235.8 561.0l1.2 8.7M238.2 554.1l1.8 6.9M250.7 597.5l2.2 7.9M250.1 640.8l1.7 7.3M244.3 599.6l0.9 5.0M246.1 567.7l1.9 5.7M234.5 548.1l1.7 8.8M235.7 561.6l0.8 5.4M242.2 600.8l1.2 8.7M247.5 650.1l0.8 5.8M234.2 552.5l1.2 6.6M242.6 541.2l2.0 5.9M242.2 577.6l1.7 8.8M254.4 658.8l2.7 7.9M253.9 636.6l2.6 8.1M240.6 558.9l1.4 5.0M235.2 553.1l1.6 8.2M238.0 541.2l1.9 7.3M252.0 628.9l1.7 6.4M253.0 638.9l2.0 6.7M242.5 594.2l0.9 6.1M257.5 610.4l3.0 8.1M238.4 549.9l2.1 7.6M250.4 583.1l2.4 7.3M252.7 660.0l1.1 5.5M246.6 634.4l0.9 5.0M238.3 542.5l1.8 6.9M244.6 601.7l1.0 5.4M241.7 549.9l2.7 7.7M245.3 570.0l1.7 5.6M255.8 593.7l2.9 7.9M255.1 656.9l2.5 7.0M246.9 626.7l0.9 5.0M246.1 642.9l0.8 5.3M255.9 653.5l3.1 8.1M249.8 584.4l1.9 6.2M252.0 591.1l2.5 8.0M242.7 547.4l2.2 6.2M238.7 566.9l1.0 6.2M252.0 611.8l2.0 7.2M250.4 610.9l1.7 6.9M245.1 631.2l0.9 5.9M252.7 643.4l2.2 7.4M252.4 630.7l1.8 6.5M244.8 606.2l1.1 6.2M254.4 645.5l2.1 6.4M247.4 611.1l1.1 5.5M248.4 623.5l1.7 7.7M248.5 608.5l1.8 8.1M253.7 594.4l2.6 7.6M258.5 624.6l2.3 5.9M238.3 570.2l0.9 6.0M243.1 575.1l1.5 6.8M243.2 572.6l1.6 6.8M248.9 635.1l1.4 6.3M251.1 607.2l2.3 8.5M242.4 549.0l2.4 6.7M251.1 582.2l2.5 7.4" stroke="#b41212" stroke-width="1.0" opacity="0.9" fill="none"/>
<path d="M256.7 623.6l2.7 7.6M241.0 554.6l2.6 8.2M253.9 584.8l2.9 7.7M254.6 654.5l1.8 5.5M247.9 625.5l1.8 8.7M255.3 658.3l2.1 5.9M242.4 599.4l0.8 5.2M256.9 616.9l2.4 6.8M246.4 576.6l2.3 8.3M256.2 608.6l1.7 5.0M252.9 604.0l2.5 8.3M242.3 577.1l1.7 8.5M239.5 563.4l1.3 6.1M237.2 556.3l1.3 5.9M234.6 540.9l1.7 8.5M243.5 561.8l2.0 6.3M256.2 611.7l2.7 7.8M238.4 540.7l2.0 7.2M252.2 603.9l2.1 7.3M256.4 606.1l2.4 6.9M252.6 630.5l2.2 7.7M245.2 612.7l1.2 6.7M256.1 633.0l3.0 8.3M239.5 561.7l1.9 8.5M246.7 591.2l1.4 6.3M250.4 623.3l1.3 5.2M242.1 583.7l1.2 7.2M247.0 577.3l2.4 8.2M256.5 636.0l2.5 6.8M232.9 548.9l1.4 8.5M243.7 589.5l1.6 8.8M240.7 576.3l1.4 8.0M240.6 565.7l1.6 7.2M247.4 596.8l1.9 8.4M252.1 581.1l2.4 6.5M237.8 565.7l1.2 8.1M253.5 635.9l1.5 5.1M252.2 626.9l1.4 5.2M251.4 586.7l2.6 7.9M241.2 570.9l1.3 6.2M256.2 654.4l2.2 5.9M242.2 588.9l1.0 6.6M239.4 540.6l2.5 8.6M254.7 658.5l2.8 7.9M251.2 624.2l1.6 6.2M244.0 596.3l1.0 5.5M250.3 639.9l1.4 5.8M239.9 577.6l1.3 8.5M248.7 636.9l1.5 7.1M248.2 649.6l0.9 5.4M249.4 648.4l1.3 6.3M245.0 595.8l1.7 8.8M246.1 625.0l1.5 8.6M242.2 567.0l1.8 7.4M245.7 561.8l2.3 6.0M247.5 634.4l1.1 5.8M258.6 626.8l2.0 5.3M247.2 593.9l1.2 5.2M235.9 545.0l1.2 5.4M246.1 569.2l2.0 6.1M239.8 545.3l1.5 5.0M241.7 586.2l1.0 6.4M240.9 564.6l1.5 6.4M249.7 645.5l1.1 5.2M243.7 561.3l2.7 8.4M252.8 647.0l1.4 5.0M251.0 657.1l1.2 6.6M252.7 615.1l2.5 8.6M236.5 543.8l2.1 8.7M257.9 624.4l1.9 5.2M236.7 561.2l1.0 5.9M245.7 608.5l1.1 6.0M232.5 546.1l1.0 6.2M243.1 546.5l2.6 7.0M254.2 659.5l2.4 7.5M238.5 549.0l1.6 6.0M243.0 540.5l2.8 7.7M252.9 628.0l2.3 8.0M253.6 655.1l1.7 5.8M248.6 586.0l2.2 7.9M238.0 551.6l1.5 5.7M257.5 630.2l2.0 5.4M251.5 646.9l1.3 5.3M254.3 659.7l1.7 5.6M247.6 616.7l1.7 8.4M244.9 607.9l1.3 7.6M245.0 586.0l1.5 7.1M242.7 602.0l1.0 6.7M242.4 557.6l2.5 7.6M256.0 637.0l1.7 5.0M240.7 564.1l1.2 5.2M256.8 632.4l2.8 7.7M252.3 658.4l1.7 8.3M247.8 627.8l1.3 6.6M237.2 561.5l1.2 6.8M234.7 555.0l1.3 7.3M243.5 582.5l1.5 7.6M252.7 654.1l1.5 5.7M249.6 610.1l1.4 6.0M253.0 652.4l2.0 7.1M243.5 589.8l1.1 5.9M248.7 589.8l2.1 8.1M251.2 619.7l2.3 8.5M253.9 659.5l2.1 7.3M251.5 596.1l1.6 5.6M249.1 628.9l1.7 7.7M233.6 540.4l1.4 7.8M237.2 552.7l1.8 7.4M239.7 571.4l1.1 6.2M247.2 587.8l1.4 5.9M246.8 598.2l1.5 6.8M240.1 541.7l1.4 4.8M245.4 578.8l2.0 7.9M244.3 618.1l0.8 5.1M257.9 615.0l2.6 7.1M243.0 609.9l0.9 6.6M238.2 554.7l1.3 5.1M256.1 655.7l2.1 5.5M254.8 590.6l1.9 5.2M246.3 634.4l0.9 5.6M254.9 587.0l2.3 6.0M255.7 610.6l2.0 6.0M257.9 613.7l3.0 8.1M237.5 552.9l1.2 5.0M246.4 637.6l1.0 5.8M246.2 564.5l1.9 5.2M248.2 644.6l1.6 8.3M257.7 613.4l2.5 6.7M238.8 571.3l1.0 6.4M245.1 608.3l1.1 6.1M246.9 645.9l0.8 5.2M244.0 543.0l2.8 7.2" stroke="#861414" stroke-width="1.0" opacity="0.9" fill="none"/>
<path d="M261.7 586.8l4.0 7.7M252.7 550.2l4.2 6.7M266.3 627.0l3.6 6.7M262.5 650.3l3.1 5.6M259.5 640.6l3.6 8.0M271.5 600.3l2.9 4.5M253.3 564.3l4.3 7.7M259.1 601.5l1.9 4.7M266.4 638.7l3.5 5.9M249.5 556.4l2.3 4.5M255.0 583.5l2.1 5.0M260.9 616.1l2.8 6.6M257.4 642.1l3.2 7.8M251.8 567.4l3.6 7.4M257.4 565.8l4.8 7.1M249.9 551.8l3.2 5.9M261.8 601.2l2.4 5.2M252.8 563.8l4.3 7.8M263.5 596.1l2.8 5.6M248.0 540.8l3.5 7.6M261.4 647.6l3.6 6.9M258.1 644.1l2.5 6.1M257.7 570.8l4.1 6.8M264.9 634.2l3.1 5.8M263.1 648.1l3.9 6.7M263.6 632.9l3.0 5.9M257.0 567.8l4.1 6.5M255.0 580.5l2.9 6.7M264.5 623.9l4.0 8.0M245.3 542.1l3.0 7.4M255.5 659.6l3.2 7.6M244.0 548.5l3.0 7.5M254.7 546.1l3.0 4.8M254.4 547.3l3.6 5.7M259.2 603.7l2.4 6.0M252.5 574.3l2.9 6.7M254.2 574.5l2.6 5.6M255.5 545.4l4.9 7.3M252.7 549.0l3.5 5.8M271.7 598.3l3.3 5.0M271.3 603.0l4.2 6.7M271.0 596.2l4.5 6.9M259.5 593.5l2.7 6.2M249.7 571.6l2.4 6.2M259.1 634.9l2.5 5.9M252.6 572.5l3.0 6.6M260.6 610.9l3.1 7.4M257.8 591.9l2.1 5.0M260.9 606.6l2.5 6.0M265.8 615.9l2.6 5.2M273.8 619.5l3.5 5.2M264.6 605.5l3.8 7.8M249.7 566.4l2.1 4.9M255.1 576.2l3.3 7.0M263.6 650.5l4.6 7.3M264.2 593.2l2.9 5.5M249.9 560.6l3.8 7.6M273.4 608.5l4.1 6.4M245.3 550.7l2.2 5.1M260.5 630.5l2.4 5.5M252.1 566.5l3.2 6.3M270.3 625.8l3.4 5.7M259.2 639.1l3.4 7.7M264.3 636.8l4.1 7.5M257.1 655.6l2.8 6.5M266.2 626.0l3.1 5.9M262.2 576.1l2.9 4.4M256.3 660.1l2.4 5.5M259.7 626.7l2.1 5.2M259.8 601.3l3.5 8.3M252.0 539.5l4.0 7.4M269.3 611.3l3.1 5.4M251.6 559.3l3.0 5.5M257.5 660.4l2.7 5.2M263.4 622.4l2.4 5.2M264.0 588.4l3.6 6.5M260.2 601.2l3.2 7.4M259.9 635.1l3.0 6.8M258.3 640.2l2.1 5.2M267.9 632.7l3.7 6.2M255.6 563.7l4.0 6.4M257.7 571.1l4.6 7.7M258.2 639.4l2.0 5.1M268.5 609.9l2.8 5.0M258.8 659.2l4.1 6.5M253.8 576.6l3.2 7.3M254.8 585.4l3.0 7.6M247.1 545.0l2.3 5.1M256.5 655.9l2.5 6.4M257.1 589.2l3.0 7.2M263.3 631.6l3.1 6.2M257.0 659.7l4.1 7.4M258.8 627.9l3.0 7.4M252.0 577.4l1.9 4.9M247.2 546.1l2.9 6.5M252.5 547.5l4.6 7.6M269.0 620.6l3.3 5.8M273.1 605.9l2.7 4.2M262.0 648.4l3.1 5.8M254.1 583.7l1.9 4.8M254.1 544.1l3.2 5.4M270.1 599.5l4.7 7.6M248.5 564.8l2.2 5.3M260.5 577.2l4.3 7.3M266.3 620.5l3.0 5.8M269.5 619.9l3.7 6.4M252.0 574.0l2.1 4.9M244.9 545.6l2.3 5.7M255.0 571.0l2.5 4.7M255.4 574.8l2.7 5.4M266.2 586.6l3.7 6.0M265.9 619.5l3.2 6.3M267.3 600.8l3.8 6.8M272.4 603.6l3.1 4.8M262.7 592.7l3.7 7.3M252.9 577.8l2.7 6.6M250.2 572.5l2.0 5.0M267.2 623.0l3.9 7.2M256.6 543.8l4.5 6.7M264.8 580.7l4.1 6.2M256.1 580.7l3.5 7.7M270.3 611.5l3.5 5.9M263.9 587.7l3.2 5.7M269.0 622.7l2.9 5.1M266.3 587.2l4.1 6.7M259.2 583.0l3.5 7.1M251.8 550.3l3.2 5.4M247.7 556.7l2.5 5.5M261.5 628.2l2.2 5.1M264.4 587.2l2.9 5.1M245.9 542.6l2.8 6.7M269.1 638.3l3.4 5.2M271.1 621.6l3.1 5.0M261.3 622.4l3.5 8.1M244.9 557.6l2.8 7.3M263.8 607.6l2.1 4.6M253.4 582.8l3.2 8.2M259.2 632.9l2.9 6.9M260.4 606.0l2.8 6.7M268.1 640.9l3.4 5.3M262.7 582.2l3.2 5.4M262.2 626.1l3.2 7.0M259.9 657.2l2.7 5.0M255.0 574.4l3.1 6.4M246.8 552.9l2.3 4.9M263.3 594.6l3.1 6.2M252.1 559.0l4.2 7.4M259.7 587.7l2.6 5.4M263.5 641.8l3.5 6.4M260.1 590.5l3.1 6.8M263.4 641.1l2.6 4.9M257.4 585.9l2.4 5.4M248.2 546.4l2.3 5.0M270.7 632.9l3.6 5.5M253.9 564.5l3.4 6.0M263.6 590.3l3.1 5.8M259.5 572.9l4.5 7.2M271.1 633.6l3.0 4.5M255.8 584.2l2.5 5.9M259.2 574.1l3.2 5.4M272.9 605.5l3.1 4.9M260.1 589.8l2.4 5.2M252.1 572.1l3.6 8.0M246.3 557.9l2.5 6.0M258.0 643.4l2.7 6.5M259.7 594.8l2.7 6.1M259.2 610.7l3.2 8.1M255.7 576.8l3.9 8.1M265.5 589.3l2.7 4.8M271.3 618.0l4.4 7.1M260.1 645.6l2.5 5.4M266.7 607.1l3.2 6.2M253.7 568.5l3.9 7.5M261.4 581.2l4.1 7.2M271.0 615.4l2.7 4.5M250.7 573.1l2.9 7.2M246.1 557.6l2.6 6.2M259.3 643.3l2.8 6.2M269.8 593.7l3.3 5.2M262.1 624.3l2.4 5.5M246.0 542.6l2.7 6.3M272.8 612.5l4.9 7.5M274.0 625.6l2.9 4.4M260.8 588.4l2.3 4.8M247.2 559.7l2.9 6.9M265.8 643.4l4.6 7.3M248.8 553.7l2.9 5.5M250.5 553.2l2.7 4.9M266.6 644.7l3.6 5.6M259.8 598.2l3.4 7.9M273.2 612.1l3.5 5.4M255.5 572.7l3.1 5.9M254.1 549.9l4.6 6.9M255.1 542.3l4.2 6.8M272.7 621.6l4.8 7.2M249.2 549.1l3.1 6.0M249.8 553.7l3.7 6.7M257.1 584.7l3.5 8.0M261.6 599.7l2.7 6.0M253.6 582.0l2.6 6.6M258.8 585.6l2.9 6.1M254.0 557.9l4.3 6.8M257.8 631.5l3.1 8.0M258.7 651.9l2.7 5.9M258.9 655.3l2.6 5.6M260.7 644.0l2.6 5.5M270.6 619.4l4.2 6.9M270.5 628.3l3.7 5.9M252.4 553.1l4.1 6.5M253.0 549.4l2.8 4.6M262.0 643.3l3.2 6.3" stroke="#861414" stroke-width="0.8" opacity="0.9" fill="none"/>
<path d="M259.1 660.8l1.2 2.1M268.0 655.3l-1.2 2.1M250.7 665.6l-0.4 2.4M256.8 663.4l1.2 2.1M274.7 666.4l1.2 2.1M271.4 666.2l1.2 2.1M265.7 664.5l-1.2 2.1M264.2 665.6l-0.4 2.4M274.7 656.0l-1.2 2.1M251.8 665.9l1.2 2.1M250.5 665.4l1.2 2.1M259.0 656.8l1.2 2.1M267.9 661.2l-1.2 2.1M268.9 663.0l1.2 2.1M247.4 655.8l1.2 2.1M275.5 664.8l-0.4 2.4M258.0 657.5l-0.4 2.4M248.6 664.1l-0.4 2.4M249.9 659.4l-1.2 2.1M257.6 662.9l-0.4 2.4M266.5 666.0l-0.4 2.4M253.1 656.6l-0.4 2.4M260.8 657.5l-0.4 2.4M253.8 663.1l-1.2 2.1M255.5 661.1l-0.4 2.4M264.3 655.1l-0.4 2.4" stroke="#6a3a3a" stroke-width="0.7" opacity="0.45" fill="none"/>
<path d="M321.9 603.6l1.5 0.0M323.8 608.7l1.5 0.0M330.7 609.5l1.5 0.0M328.1 600.9l1.5 0.0M332.5 602.9l1.5 0.0M321.6 605.0l1.5 0.0M337.0 604.4l1.5 0.0M324.4 610.9l1.5 0.0M337.1 604.6l1.5 0.0M320.0 609.5l1.5 0.0" stroke="#6a3a3a" stroke-width="0.8" opacity="0.25" fill="none"/>
<path d="M129.4 569.3V736.4" stroke="#000" stroke-width="1.6" fill="none"/>
<path d="M128.6 569.3H390.4" stroke="#000" stroke-width="2.8" fill="none"/>
<path d="M128.3 736.4H390.4" stroke="#000" stroke-width="1.5" fill="none"/>
<path d="M389.7 569.3V736.4" stroke="#000" stroke-width="1.4" fill="none"/>
<g font-size="9.4" fill="#111" style="font-family:'Liberation Serif',serif">
<text x="112.3" y="573.4" textLength="13.5" lengthAdjust="spacing" style="font-family:'Liberation Serif',serif">0.2</text>
<text x="120.3" y="602.7" textLength="4.1" lengthAdjust="spacing" style="font-family:'Liberation Serif',serif">0</text>
<text x="106.8" y="660.9" textLength="18.2" lengthAdjust="spacing" style="font-family:'Liberation Serif',serif">-0.4</text>
<text x="106.8" y="719.4" textLength="18.2" lengthAdjust="spacing" style="font-family:'Liberation Serif',serif">-0.8</text>
<text x="116.3" y="747.0" textLength="18.2" lengthAdjust="spacing" style="font-family:'Liberation Serif',serif">-0.5</text>
<text x="203.1" y="746.4" textLength="4.1" lengthAdjust="spacing" style="font-family:'Liberation Serif',serif">0</text>
<text x="276.6" y="747.6" textLength="13.5" lengthAdjust="spacing" style="font-family:'Liberation Serif',serif">0.5</text>
<text x="351.9" y="747.0" textLength="13.5" lengthAdjust="spacing" style="font-family:'Liberation Serif',serif">0.1</text>
</g>
<text x="257.9" y="763" font-size="10" font-weight="bold" fill="#111" textLength="31.4" lengthAdjust="spacingAndGlyphs">X / mm</text>
<text transform="translate(111.2 643.3) rotate(-90)" font-size="10" font-weight="bold" fill="#111" textLength="29.5" lengthAdjust="spacingAndGlyphs">Z / mm</text>
</g></g>
<g id="fig5">
<defs><filter id="f5b" x="-5%" y="-5%" width="110%" height="110%"><feGaussianBlur stdDeviation="0.35"/></filter></defs>
<g filter="url(#f5b)">
<rect x="579.7" y="528.3" width="278.7" height="206.9" fill="#fff" stroke="#000" stroke-width="1"/>
<path d="M593.9 528.3v3.6M593.9 735.2v-3.6M623.3 528.3v3.6M623.3 735.2v-3.6M652.7 528.3v3.6M652.7 735.2v-3.6M682.1 528.3v3.6M682.1 735.2v-3.6M711.4 528.3v3.6M711.4 735.2v-3.6M740.8 528.3v3.6M740.8 735.2v-3.6M770.2 528.3v3.6M770.2 735.2v-3.6M799.6 528.3v3.6M799.6 735.2v-3.6M829.0 528.3v3.6M829.0 735.2v-3.6M579.7 542.4h4M858.4 542.4h-4M579.7 569.9h4M858.4 569.9h-4M579.7 597.5h4M858.4 597.5h-4M579.7 625.0h4M858.4 625.0h-4M579.7 652.6h4M858.4 652.6h-4M579.7 680.1h4M858.4 680.1h-4M579.7 707.6h4M858.4 707.6h-4" stroke="#000" stroke-width="1" fill="none"/>
<path d="M601.0 542.2 L604.6 544.1 L609.0 546.7 L612.7 550.7 L616.3 554.5 L633.1 554.5 L636.0 550.7 L639.0 546.7 L641.9 546.0 L646.0 543.1" fill="none" stroke="#ff0000" stroke-width="1" stroke-linejoin="round"/>
<path d="M585.3 542.2 L589.3 548.5 L592.2 554.3 L595.9 561.6 L599.5 566.0 L603.2 572.6 L606.8 579.9 L611.2 587.9 L615.6 598.2 L620.7 607.7 L625.8 615.0 L630.2 617.1 L634.6 617.9 L639.0 620.8 L641.9 621.1 L646.3 619.3 L650.6 614.2 L655.0 606.2 L659.4 596.7 L663.8 587.2 L668.2 579.9 L671.1 572.6 L674.0 569.7 L678.4 565.3 L679.9 556.5 L682.0 549.2 L685.0 544.8 L687.9 543.1" fill="none" stroke="#00ee00" stroke-width="1" stroke-linejoin="round"/>
<path d="M586.1 542.2 L590.7 547.8 L595.1 551.4 L599.5 558.0 L603.9 568.2 L606.8 579.9 L610.5 590.1 L615.6 601.8 L620.7 613.5 L625.8 623.0 L630.9 629.6 L636.0 635.4 L649.2 635.4 L653.6 632.5 L657.9 628.1 L662.3 620.8 L666.0 610.6 L671.1 598.9 L676.9 585.7 L682.8 574.0 L687.9 562.4 L692.3 552.1 L696.7 545.6 L699.6 543.1" fill="none" stroke="#0000ff" stroke-width="1" stroke-linejoin="round"/>
<path d="M608.3 542.2 L612.7 548.5 L616.3 555.1 L620.0 569.7 L624.3 578.4 L627.3 588.7 L630.2 597.4 L634.6 606.2 L639.0 615.0 L641.9 625.2 L644.8 635.4 L649.2 642.7 L645.8 637.4 L652.1 648.4 L658.4 661.0 L664.7 673.6 L671.0 679.3 L678.9 679.3 L686.7 673.6 L693.0 665.7 L697.8 656.3 L702.5 642.1 L707.2 626.4 L711.9 610.7 L718.2 599.7 L724.5 582.4 L730.8 569.8 L737.1 557.2 L741.8 549.3 L744.9 543.0" fill="none" stroke="#00f0f0" stroke-width="1" stroke-linejoin="round"/>
<path d="M650.4 542.2 L653.6 546.3 L656.5 548.0 L660.1 548.5 L663.8 550.7 L668.2 555.1 L672.5 558.7 L676.2 562.4 L678.4 568.9 L682.8 572.6 L685.7 578.4 L690.1 587.2 L694.5 596.7 L698.1 604.7 L700.3 615.0 L703.2 625.2 L706.1 634.0 L708.4 642.7 L708.8 646.9 L713.5 661.0 L719.8 670.5 L727.6 686.2 L735.5 694.0 L743.4 701.3 L749.7 700.3 L754.4 702.5 L760.7 705.7 L767.0 701.0 L773.3 700.3 L781.1 689.3 L787.4 673.6 L793.7 656.3 L798.4 642.1 L803.1 624.8 L806.3 607.5 L809.4 590.2 L814.1 574.5 L818.9 565.1 L823.6 552.5 L827.7 543.0" fill="none" stroke="#ff00ff" stroke-width="1" stroke-linejoin="round"/>
<g fill="#3c3c3c" font-size="8.6">
<text x="561.0" y="545.1" textLength="12.4" lengthAdjust="spacingAndGlyphs">0.0</text>
<text x="558.4" y="572.6" textLength="15" lengthAdjust="spacingAndGlyphs">-0.1</text>
<text x="558.4" y="600.2" textLength="15" lengthAdjust="spacingAndGlyphs">-0.2</text>
<text x="558.4" y="627.7" textLength="15" lengthAdjust="spacingAndGlyphs">-0.3</text>
<text x="558.4" y="655.3" textLength="15" lengthAdjust="spacingAndGlyphs">-0.4</text>
<text x="558.4" y="682.8" textLength="15" lengthAdjust="spacingAndGlyphs">-0.5</text>
<text x="558.4" y="710.3" textLength="15" lengthAdjust="spacingAndGlyphs">-0.6</text>
<text x="558.4" y="737.9" textLength="15" lengthAdjust="spacingAndGlyphs">-0.7</text>
<text x="584.4" y="747.2" textLength="15" lengthAdjust="spacingAndGlyphs">-0.2</text>
<text x="616.2" y="747.2" textLength="12.4" lengthAdjust="spacingAndGlyphs">0.0</text>
<text x="645.6" y="747.2" textLength="12.4" lengthAdjust="spacingAndGlyphs">0.2</text>
<text x="675.0" y="747.2" textLength="12.4" lengthAdjust="spacingAndGlyphs">0.4</text>
<text x="704.3" y="747.2" textLength="12.4" lengthAdjust="spacingAndGlyphs">0.6</text>
<text x="733.7" y="747.2" textLength="12.4" lengthAdjust="spacingAndGlyphs">0.8</text>
<text x="763.1" y="747.2" textLength="12.4" lengthAdjust="spacingAndGlyphs">1.0</text>
<text x="792.5" y="747.2" textLength="12.4" lengthAdjust="spacingAndGlyphs">1.2</text>
<text x="821.9" y="747.2" textLength="12.4" lengthAdjust="spacingAndGlyphs">1.4</text>
<text x="851.2" y="747.2" textLength="12.4" lengthAdjust="spacingAndGlyphs">1.6</text>
</g>
<text x="717.3" y="765.6" font-size="10.4" fill="#2a2a2a" text-anchor="middle" textLength="128" lengthAdjust="spacing">Welding Workpiece/mm</text>
<g font-family="'Liberation Serif',serif" style="font-family:'Liberation Serif',serif">
<text transform="translate(543.6 629.5) rotate(-90)" font-size="13" fill="#111" text-anchor="middle" textLength="95.5" lengthAdjust="spacingAndGlyphs" style="font-family:'Liberation Serif',serif">Keyhole Depth/mm</text>
<text x="863.8" y="565.7" font-size="11.6" fill="#111" textLength="44" lengthAdjust="spacingAndGlyphs" style="font-family:'Liberation Serif',serif">A~0.2ms</text>
<text x="865" y="592.8" font-size="11.6" fill="#111" textLength="44" lengthAdjust="spacingAndGlyphs" style="font-family:'Liberation Serif',serif">B~3.9ms</text>
<text x="862.9" y="618.9" font-size="11.6" fill="#111" textLength="44" lengthAdjust="spacingAndGlyphs" style="font-family:'Liberation Serif',serif">C~7.3ms</text>
<text x="862.9" y="645.9" font-size="11.6" fill="#111" textLength="50" lengthAdjust="spacingAndGlyphs" style="font-family:'Liberation Serif',serif">D~12.6ms</text>
<text x="862.9" y="673.3" font-size="11.6" fill="#111" textLength="50" lengthAdjust="spacingAndGlyphs" style="font-family:'Liberation Serif',serif">E~25.1ms</text>
<text x="621.3" y="549.3" font-size="7.2" fill="#555" text-anchor="middle" style="font-family:'Liberation Serif',serif">A</text>
<text x="674.4" y="549.0" font-size="7.2" fill="#555" text-anchor="middle" style="font-family:'Liberation Serif',serif">B</text>
<text x="690.2" y="549.0" font-size="7.2" fill="#555" text-anchor="middle" style="font-family:'Liberation Serif',serif">C</text>
<text x="730.4" y="549.0" font-size="7.2" fill="#555" text-anchor="middle" style="font-family:'Liberation Serif',serif">D</text>
<text x="811.3" y="551.2" font-size="7.2" fill="#555" text-anchor="middle" style="font-family:'Liberation Serif',serif">E</text>
</g>
</g></g>
</svg>
<div class="cap" style="left:75px;top:422px;width:358px;height:58px;line-height:58px;"><span style="left:-3px;top:3px">小孔、熔池模拟结果</span></div>
<div class="cap" style="left:531px;top:422px;width:320px;height:59px;line-height:59px;"><span style="left:-1px;top:3px">孔壁功率密度分布</span></div>
<div class="cap" style="left:958px;top:421px;width:301px;height:59px;line-height:59px;"><span style="left:0px;top:3px">孔壁温度分布</span></div>
<div class="cap" style="left:84px;top:790px;width:356px;height:58px;line-height:58px;"><span style="left:-2px;top:3px">金属蒸气流的速度场</span></div>
<div class="cap" style="left:527px;top:790px;width:392px;height:59px;line-height:59px;"><span style="left:-2px;top:2px">小孔形貌动态变化过程</span></div>
</body>
</html>
